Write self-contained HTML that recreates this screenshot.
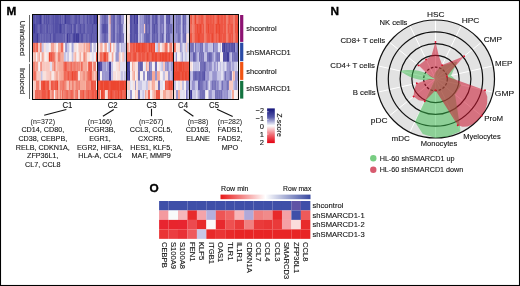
<!DOCTYPE html>
<html><head><meta charset="utf-8"><style>
html,body{margin:0;padding:0;background:#fff;}
body{width:520px;height:286px;overflow:hidden;font-family:"Liberation Sans", sans-serif;}
svg{display:block;will-change:transform;}
</style></head><body>
<svg width="520" height="286" viewBox="0 0 520 286" font-family='"Liberation Sans", sans-serif' fill="#141414">
<rect x="0" y="0" width="520" height="286" fill="#fff"/>
<text x="6.6" y="15.0" font-size="11.8" text-anchor="start" font-weight="bold" fill="#000" stroke="#000" stroke-width="0.35">M</text>
<text x="330.5" y="14.8" font-size="11.8" text-anchor="start" font-weight="bold" fill="#000" stroke="#000" stroke-width="0.35">N</text>
<text x="149.4" y="191.6" font-size="11.8" text-anchor="start" font-weight="bold" fill="#000" stroke="#000" stroke-width="0.35">O</text>
<rect x="32.50" y="14.50" width="1.60" height="10.04" fill="#5450a6"/>
<rect x="33.75" y="14.50" width="2.06" height="10.04" fill="#5450a6"/>
<rect x="35.46" y="14.50" width="1.90" height="10.04" fill="#5450a6"/>
<rect x="37.01" y="14.50" width="1.24" height="10.04" fill="#5450a6"/>
<rect x="37.90" y="14.50" width="1.20" height="10.04" fill="#5450a6"/>
<rect x="38.75" y="14.50" width="1.25" height="10.04" fill="#5450a6"/>
<rect x="39.65" y="14.50" width="1.74" height="10.04" fill="#3e3a98"/>
<rect x="41.04" y="14.50" width="1.32" height="10.04" fill="#5450a6"/>
<rect x="42.01" y="14.50" width="2.03" height="10.04" fill="#7470b8"/>
<rect x="43.69" y="14.50" width="1.96" height="10.04" fill="#5450a6"/>
<rect x="45.30" y="14.50" width="2.52" height="10.04" fill="#5450a6"/>
<rect x="47.47" y="14.50" width="2.35" height="10.04" fill="#5450a6"/>
<rect x="49.47" y="14.50" width="1.35" height="10.04" fill="#5450a6"/>
<rect x="50.47" y="14.50" width="1.58" height="10.04" fill="#625eae"/>
<rect x="51.70" y="14.50" width="1.41" height="10.04" fill="#625eae"/>
<rect x="52.76" y="14.50" width="2.04" height="10.04" fill="#5450a6"/>
<rect x="54.45" y="14.50" width="1.92" height="10.04" fill="#5450a6"/>
<rect x="56.02" y="14.50" width="1.23" height="10.04" fill="#5450a6"/>
<rect x="56.90" y="14.50" width="2.10" height="10.04" fill="#5450a6"/>
<rect x="58.65" y="14.50" width="1.59" height="10.04" fill="#625eae"/>
<rect x="59.89" y="14.50" width="1.79" height="10.04" fill="#5450a6"/>
<rect x="61.33" y="14.50" width="2.26" height="10.04" fill="#625eae"/>
<rect x="63.24" y="14.50" width="1.49" height="10.04" fill="#625eae"/>
<rect x="64.38" y="14.50" width="1.89" height="10.04" fill="#3e3a98"/>
<rect x="65.92" y="14.50" width="2.17" height="10.04" fill="#5450a6"/>
<rect x="67.74" y="14.50" width="2.52" height="10.04" fill="#5450a6"/>
<rect x="69.91" y="14.50" width="1.74" height="10.04" fill="#625eae"/>
<rect x="71.30" y="14.50" width="1.36" height="10.04" fill="#5450a6"/>
<rect x="72.31" y="14.50" width="1.20" height="10.04" fill="#625eae"/>
<rect x="73.16" y="14.50" width="2.22" height="10.04" fill="#625eae"/>
<rect x="75.03" y="14.50" width="2.38" height="10.04" fill="#5450a6"/>
<rect x="77.06" y="14.50" width="2.12" height="10.04" fill="#625eae"/>
<rect x="78.83" y="14.50" width="1.96" height="10.04" fill="#5450a6"/>
<rect x="80.44" y="14.50" width="2.33" height="10.04" fill="#7470b8"/>
<rect x="82.42" y="14.50" width="1.81" height="10.04" fill="#625eae"/>
<rect x="83.88" y="14.50" width="1.24" height="10.04" fill="#625eae"/>
<rect x="84.77" y="14.50" width="2.06" height="10.04" fill="#7470b8"/>
<rect x="86.48" y="14.50" width="2.30" height="10.04" fill="#5450a6"/>
<rect x="88.43" y="14.50" width="1.69" height="10.04" fill="#625eae"/>
<rect x="89.77" y="14.50" width="1.18" height="10.04" fill="#5450a6"/>
<rect x="90.60" y="14.50" width="1.38" height="10.04" fill="#5450a6"/>
<rect x="91.63" y="14.50" width="1.24" height="10.04" fill="#625eae"/>
<rect x="92.52" y="14.50" width="1.33" height="10.04" fill="#5450a6"/>
<rect x="93.50" y="14.50" width="1.69" height="10.04" fill="#3e3a98"/>
<rect x="94.84" y="14.50" width="1.27" height="10.04" fill="#5450a6"/>
<rect x="95.76" y="14.50" width="1.92" height="10.04" fill="#3e3a98"/>
<rect x="97.33" y="14.50" width="0.52" height="10.04" fill="#3e3a98"/>
<rect x="97.60" y="14.50" width="2.55" height="10.04" fill="#f8e0dc"/>
<rect x="99.80" y="14.50" width="1.95" height="10.04" fill="#9894ce"/>
<rect x="101.40" y="14.50" width="1.75" height="10.04" fill="#7470b8"/>
<rect x="102.80" y="14.50" width="1.55" height="10.04" fill="#7470b8"/>
<rect x="104.00" y="14.50" width="2.35" height="10.04" fill="#625eae"/>
<rect x="106.00" y="14.50" width="2.35" height="10.04" fill="#7470b8"/>
<rect x="108.00" y="14.50" width="1.85" height="10.04" fill="#c4c2e4"/>
<rect x="109.50" y="14.50" width="1.45" height="10.04" fill="#f5a898"/>
<rect x="110.60" y="14.50" width="2.75" height="10.04" fill="#7470b8"/>
<rect x="113.00" y="14.50" width="2.35" height="10.04" fill="#625eae"/>
<rect x="115.00" y="14.50" width="1.85" height="10.04" fill="#9894ce"/>
<rect x="116.50" y="14.50" width="1.81" height="10.04" fill="#7470b8"/>
<rect x="117.96" y="14.50" width="1.39" height="10.04" fill="#7470b8"/>
<rect x="119.00" y="14.50" width="2.35" height="10.04" fill="#625eae"/>
<rect x="121.00" y="14.50" width="1.94" height="10.04" fill="#9894ce"/>
<rect x="122.59" y="14.50" width="1.35" height="10.04" fill="#9894ce"/>
<rect x="123.60" y="14.50" width="0.75" height="10.04" fill="#9894ce"/>
<rect x="124.00" y="14.50" width="2.01" height="10.04" fill="#f6f0f2"/>
<rect x="125.66" y="14.50" width="1.49" height="10.04" fill="#e2e0f0"/>
<rect x="126.80" y="14.50" width="1.93" height="10.04" fill="#f8e0dc"/>
<rect x="128.38" y="14.50" width="1.87" height="10.04" fill="#f8e0dc"/>
<rect x="129.90" y="14.50" width="2.45" height="10.04" fill="#5450a6"/>
<rect x="132.00" y="14.50" width="2.35" height="10.04" fill="#625eae"/>
<rect x="134.00" y="14.50" width="1.46" height="10.04" fill="#3e3a98"/>
<rect x="135.11" y="14.50" width="2.11" height="10.04" fill="#5450a6"/>
<rect x="136.87" y="14.50" width="1.48" height="10.04" fill="#3e3a98"/>
<rect x="138.00" y="14.50" width="1.95" height="10.04" fill="#c4c2e4"/>
<rect x="139.60" y="14.50" width="1.95" height="10.04" fill="#9894ce"/>
<rect x="141.20" y="14.50" width="1.98" height="10.04" fill="#9894ce"/>
<rect x="142.83" y="14.50" width="1.52" height="10.04" fill="#9894ce"/>
<rect x="144.00" y="14.50" width="1.55" height="10.04" fill="#7470b8"/>
<rect x="145.20" y="14.50" width="2.35" height="10.04" fill="#625eae"/>
<rect x="147.20" y="14.50" width="2.03" height="10.04" fill="#625eae"/>
<rect x="148.87" y="14.50" width="1.48" height="10.04" fill="#625eae"/>
<rect x="150.00" y="14.50" width="2.35" height="10.04" fill="#9894ce"/>
<rect x="152.00" y="14.50" width="1.33" height="10.04" fill="#625eae"/>
<rect x="152.98" y="14.50" width="1.69" height="10.04" fill="#625eae"/>
<rect x="154.32" y="14.50" width="1.68" height="10.04" fill="#625eae"/>
<rect x="155.64" y="14.50" width="2.18" height="10.04" fill="#5450a6"/>
<rect x="157.47" y="14.50" width="0.88" height="10.04" fill="#7470b8"/>
<rect x="158.00" y="14.50" width="2.35" height="10.04" fill="#9894ce"/>
<rect x="160.00" y="14.50" width="2.33" height="10.04" fill="#7470b8"/>
<rect x="161.98" y="14.50" width="1.33" height="10.04" fill="#7470b8"/>
<rect x="162.96" y="14.50" width="1.39" height="10.04" fill="#7470b8"/>
<rect x="164.00" y="14.50" width="2.35" height="10.04" fill="#c4c2e4"/>
<rect x="166.00" y="14.50" width="1.35" height="10.04" fill="#625eae"/>
<rect x="167.00" y="14.50" width="2.31" height="10.04" fill="#625eae"/>
<rect x="168.96" y="14.50" width="1.38" height="10.04" fill="#5450a6"/>
<rect x="169.99" y="14.50" width="0.36" height="10.04" fill="#625eae"/>
<rect x="170.00" y="14.50" width="1.79" height="10.04" fill="#9894ce"/>
<rect x="171.44" y="14.50" width="1.46" height="10.04" fill="#9894ce"/>
<rect x="172.54" y="14.50" width="1.41" height="10.04" fill="#9894ce"/>
<rect x="173.60" y="14.50" width="2.75" height="10.04" fill="#9894ce"/>
<rect x="176.00" y="14.50" width="1.71" height="10.04" fill="#7470b8"/>
<rect x="177.36" y="14.50" width="1.68" height="10.04" fill="#7470b8"/>
<rect x="178.70" y="14.50" width="1.25" height="10.04" fill="#7470b8"/>
<rect x="179.60" y="14.50" width="1.55" height="10.04" fill="#7470b8"/>
<rect x="180.80" y="14.50" width="2.05" height="10.04" fill="#c4c2e4"/>
<rect x="182.50" y="14.50" width="2.35" height="10.04" fill="#625eae"/>
<rect x="184.50" y="14.50" width="1.68" height="10.04" fill="#7470b8"/>
<rect x="185.83" y="14.50" width="0.82" height="10.04" fill="#625eae"/>
<rect x="186.30" y="14.50" width="1.48" height="10.04" fill="#c4c2e4"/>
<rect x="187.43" y="14.50" width="2.10" height="10.04" fill="#c4c2e4"/>
<rect x="189.18" y="14.50" width="0.37" height="10.04" fill="#9894ce"/>
<rect x="189.20" y="14.50" width="1.48" height="10.04" fill="#ee5644"/>
<rect x="190.33" y="14.50" width="1.27" height="10.04" fill="#ee5644"/>
<rect x="191.25" y="14.50" width="1.30" height="10.04" fill="#ec4630"/>
<rect x="192.20" y="14.50" width="2.55" height="10.04" fill="#f08070"/>
<rect x="194.40" y="14.50" width="2.17" height="10.04" fill="#ec4630"/>
<rect x="196.22" y="14.50" width="1.45" height="10.04" fill="#f06a58"/>
<rect x="197.32" y="14.50" width="2.15" height="10.04" fill="#f06a58"/>
<rect x="199.12" y="14.50" width="1.42" height="10.04" fill="#ee5644"/>
<rect x="200.19" y="14.50" width="1.86" height="10.04" fill="#ee5644"/>
<rect x="201.70" y="14.50" width="1.68" height="10.04" fill="#ee5644"/>
<rect x="203.03" y="14.50" width="1.32" height="10.04" fill="#f06a58"/>
<rect x="204.00" y="14.50" width="2.15" height="10.04" fill="#f08070"/>
<rect x="205.80" y="14.50" width="1.29" height="10.04" fill="#ee5644"/>
<rect x="206.74" y="14.50" width="1.51" height="10.04" fill="#ee5644"/>
<rect x="207.90" y="14.50" width="1.53" height="10.04" fill="#ee5644"/>
<rect x="209.09" y="14.50" width="1.91" height="10.04" fill="#ee5644"/>
<rect x="210.64" y="14.50" width="1.44" height="10.04" fill="#ee5644"/>
<rect x="211.74" y="14.50" width="1.33" height="10.04" fill="#f06a58"/>
<rect x="212.71" y="14.50" width="1.56" height="10.04" fill="#ee5644"/>
<rect x="213.92" y="14.50" width="0.43" height="10.04" fill="#ec4630"/>
<rect x="214.00" y="14.50" width="1.85" height="10.04" fill="#f06a58"/>
<rect x="215.50" y="14.50" width="1.70" height="10.04" fill="#f06a58"/>
<rect x="216.85" y="14.50" width="1.44" height="10.04" fill="#ee5644"/>
<rect x="217.95" y="14.50" width="1.88" height="10.04" fill="#ec4630"/>
<rect x="219.48" y="14.50" width="1.40" height="10.04" fill="#ee5644"/>
<rect x="220.53" y="14.50" width="1.61" height="10.04" fill="#ee5644"/>
<rect x="221.79" y="14.50" width="1.82" height="10.04" fill="#ee5644"/>
<rect x="223.27" y="14.50" width="1.90" height="10.04" fill="#ee5644"/>
<rect x="224.82" y="14.50" width="1.53" height="10.04" fill="#ee5644"/>
<rect x="226.00" y="14.50" width="1.85" height="10.04" fill="#f08070"/>
<rect x="227.50" y="14.50" width="1.59" height="10.04" fill="#f06a58"/>
<rect x="228.74" y="14.50" width="1.78" height="10.04" fill="#ee5644"/>
<rect x="230.17" y="14.50" width="1.60" height="10.04" fill="#ee5644"/>
<rect x="231.42" y="14.50" width="1.33" height="10.04" fill="#ee5644"/>
<rect x="232.41" y="14.50" width="0.94" height="10.04" fill="#ee5644"/>
<rect x="233.00" y="14.50" width="2.35" height="10.04" fill="#f08070"/>
<rect x="235.00" y="14.50" width="2.06" height="10.04" fill="#ee5644"/>
<rect x="236.71" y="14.50" width="1.64" height="10.04" fill="#ee5644"/>
<rect x="32.50" y="23.94" width="1.54" height="10.04" fill="#5450a6"/>
<rect x="33.69" y="23.94" width="1.65" height="10.04" fill="#3e3a98"/>
<rect x="34.99" y="23.94" width="2.49" height="10.04" fill="#5450a6"/>
<rect x="37.13" y="23.94" width="1.40" height="10.04" fill="#5450a6"/>
<rect x="38.18" y="23.94" width="1.48" height="10.04" fill="#625eae"/>
<rect x="39.31" y="23.94" width="1.97" height="10.04" fill="#5450a6"/>
<rect x="40.93" y="23.94" width="1.16" height="10.04" fill="#5450a6"/>
<rect x="41.74" y="23.94" width="1.66" height="10.04" fill="#625eae"/>
<rect x="43.05" y="23.94" width="2.49" height="10.04" fill="#625eae"/>
<rect x="45.19" y="23.94" width="1.87" height="10.04" fill="#625eae"/>
<rect x="46.71" y="23.94" width="2.10" height="10.04" fill="#5450a6"/>
<rect x="48.46" y="23.94" width="2.41" height="10.04" fill="#625eae"/>
<rect x="50.52" y="23.94" width="2.37" height="10.04" fill="#625eae"/>
<rect x="52.54" y="23.94" width="1.70" height="10.04" fill="#5450a6"/>
<rect x="53.89" y="23.94" width="1.29" height="10.04" fill="#625eae"/>
<rect x="54.83" y="23.94" width="1.24" height="10.04" fill="#5450a6"/>
<rect x="55.72" y="23.94" width="1.44" height="10.04" fill="#5450a6"/>
<rect x="56.81" y="23.94" width="1.63" height="10.04" fill="#5450a6"/>
<rect x="58.09" y="23.94" width="1.15" height="10.04" fill="#5450a6"/>
<rect x="58.89" y="23.94" width="1.29" height="10.04" fill="#5450a6"/>
<rect x="59.83" y="23.94" width="1.19" height="10.04" fill="#3e3a98"/>
<rect x="60.67" y="23.94" width="2.01" height="10.04" fill="#5450a6"/>
<rect x="62.33" y="23.94" width="1.50" height="10.04" fill="#5450a6"/>
<rect x="63.48" y="23.94" width="1.66" height="10.04" fill="#5450a6"/>
<rect x="64.79" y="23.94" width="2.34" height="10.04" fill="#7470b8"/>
<rect x="66.78" y="23.94" width="1.80" height="10.04" fill="#625eae"/>
<rect x="68.23" y="23.94" width="1.27" height="10.04" fill="#5450a6"/>
<rect x="69.15" y="23.94" width="1.63" height="10.04" fill="#5450a6"/>
<rect x="70.43" y="23.94" width="2.31" height="10.04" fill="#5450a6"/>
<rect x="72.39" y="23.94" width="1.18" height="10.04" fill="#7470b8"/>
<rect x="73.22" y="23.94" width="1.89" height="10.04" fill="#5450a6"/>
<rect x="74.76" y="23.94" width="1.91" height="10.04" fill="#5450a6"/>
<rect x="76.32" y="23.94" width="1.89" height="10.04" fill="#7470b8"/>
<rect x="77.86" y="23.94" width="2.36" height="10.04" fill="#625eae"/>
<rect x="79.87" y="23.94" width="1.52" height="10.04" fill="#5450a6"/>
<rect x="81.04" y="23.94" width="1.38" height="10.04" fill="#625eae"/>
<rect x="82.07" y="23.94" width="1.90" height="10.04" fill="#625eae"/>
<rect x="83.62" y="23.94" width="1.61" height="10.04" fill="#5450a6"/>
<rect x="84.88" y="23.94" width="2.28" height="10.04" fill="#7470b8"/>
<rect x="86.81" y="23.94" width="2.35" height="10.04" fill="#625eae"/>
<rect x="88.81" y="23.94" width="2.29" height="10.04" fill="#625eae"/>
<rect x="90.75" y="23.94" width="1.47" height="10.04" fill="#625eae"/>
<rect x="91.87" y="23.94" width="1.65" height="10.04" fill="#5450a6"/>
<rect x="93.17" y="23.94" width="1.19" height="10.04" fill="#5450a6"/>
<rect x="94.01" y="23.94" width="1.51" height="10.04" fill="#625eae"/>
<rect x="95.17" y="23.94" width="2.49" height="10.04" fill="#5450a6"/>
<rect x="97.31" y="23.94" width="0.54" height="10.04" fill="#7470b8"/>
<rect x="97.60" y="23.94" width="2.55" height="10.04" fill="#e2e0f0"/>
<rect x="99.80" y="23.94" width="1.95" height="10.04" fill="#9894ce"/>
<rect x="101.40" y="23.94" width="1.77" height="10.04" fill="#625eae"/>
<rect x="102.82" y="23.94" width="1.53" height="10.04" fill="#5450a6"/>
<rect x="104.00" y="23.94" width="2.35" height="10.04" fill="#5450a6"/>
<rect x="106.00" y="23.94" width="2.35" height="10.04" fill="#625eae"/>
<rect x="108.00" y="23.94" width="1.85" height="10.04" fill="#c4c2e4"/>
<rect x="109.50" y="23.94" width="1.45" height="10.04" fill="#f8c8c0"/>
<rect x="110.60" y="23.94" width="2.75" height="10.04" fill="#7470b8"/>
<rect x="113.00" y="23.94" width="2.35" height="10.04" fill="#625eae"/>
<rect x="115.00" y="23.94" width="1.85" height="10.04" fill="#9894ce"/>
<rect x="116.50" y="23.94" width="2.35" height="10.04" fill="#7470b8"/>
<rect x="118.50" y="23.94" width="0.85" height="10.04" fill="#7470b8"/>
<rect x="119.00" y="23.94" width="2.35" height="10.04" fill="#625eae"/>
<rect x="121.00" y="23.94" width="2.20" height="10.04" fill="#7470b8"/>
<rect x="122.85" y="23.94" width="1.50" height="10.04" fill="#c4c2e4"/>
<rect x="124.00" y="23.94" width="1.65" height="10.04" fill="#e2e0f0"/>
<rect x="125.30" y="23.94" width="1.48" height="10.04" fill="#e2e0f0"/>
<rect x="126.44" y="23.94" width="0.71" height="10.04" fill="#e2e0f0"/>
<rect x="126.80" y="23.94" width="2.15" height="10.04" fill="#f8e0dc"/>
<rect x="128.60" y="23.94" width="1.65" height="10.04" fill="#f6f0f2"/>
<rect x="129.90" y="23.94" width="2.45" height="10.04" fill="#5450a6"/>
<rect x="132.00" y="23.94" width="2.35" height="10.04" fill="#625eae"/>
<rect x="134.00" y="23.94" width="2.15" height="10.04" fill="#5450a6"/>
<rect x="135.80" y="23.94" width="1.50" height="10.04" fill="#5450a6"/>
<rect x="136.95" y="23.94" width="1.40" height="10.04" fill="#5450a6"/>
<rect x="138.00" y="23.94" width="1.95" height="10.04" fill="#c4c2e4"/>
<rect x="139.60" y="23.94" width="1.98" height="10.04" fill="#9894ce"/>
<rect x="141.23" y="23.94" width="1.84" height="10.04" fill="#9894ce"/>
<rect x="142.72" y="23.94" width="1.63" height="10.04" fill="#9894ce"/>
<rect x="144.00" y="23.94" width="1.55" height="10.04" fill="#f8c8c0"/>
<rect x="145.20" y="23.94" width="2.22" height="10.04" fill="#625eae"/>
<rect x="147.07" y="23.94" width="1.81" height="10.04" fill="#7470b8"/>
<rect x="148.53" y="23.94" width="1.82" height="10.04" fill="#625eae"/>
<rect x="150.00" y="23.94" width="2.35" height="10.04" fill="#9894ce"/>
<rect x="152.00" y="23.94" width="1.92" height="10.04" fill="#625eae"/>
<rect x="153.57" y="23.94" width="1.95" height="10.04" fill="#5450a6"/>
<rect x="155.18" y="23.94" width="2.32" height="10.04" fill="#625eae"/>
<rect x="157.15" y="23.94" width="1.20" height="10.04" fill="#625eae"/>
<rect x="158.00" y="23.94" width="2.35" height="10.04" fill="#9894ce"/>
<rect x="160.00" y="23.94" width="2.01" height="10.04" fill="#7470b8"/>
<rect x="161.66" y="23.94" width="1.38" height="10.04" fill="#9894ce"/>
<rect x="162.68" y="23.94" width="1.66" height="10.04" fill="#7470b8"/>
<rect x="164.00" y="23.94" width="2.35" height="10.04" fill="#c4c2e4"/>
<rect x="166.00" y="23.94" width="2.09" height="10.04" fill="#7470b8"/>
<rect x="167.74" y="23.94" width="2.15" height="10.04" fill="#625eae"/>
<rect x="169.55" y="23.94" width="0.80" height="10.04" fill="#7470b8"/>
<rect x="170.00" y="23.94" width="1.30" height="10.04" fill="#7470b8"/>
<rect x="170.95" y="23.94" width="2.08" height="10.04" fill="#7470b8"/>
<rect x="172.68" y="23.94" width="1.27" height="10.04" fill="#c4c2e4"/>
<rect x="173.60" y="23.94" width="2.75" height="10.04" fill="#9894ce"/>
<rect x="176.00" y="23.94" width="1.80" height="10.04" fill="#7470b8"/>
<rect x="177.45" y="23.94" width="2.05" height="10.04" fill="#7470b8"/>
<rect x="179.15" y="23.94" width="1.66" height="10.04" fill="#7470b8"/>
<rect x="180.45" y="23.94" width="0.70" height="10.04" fill="#7470b8"/>
<rect x="180.80" y="23.94" width="2.05" height="10.04" fill="#c4c2e4"/>
<rect x="182.50" y="23.94" width="2.19" height="10.04" fill="#625eae"/>
<rect x="184.34" y="23.94" width="1.76" height="10.04" fill="#7470b8"/>
<rect x="185.75" y="23.94" width="0.90" height="10.04" fill="#7470b8"/>
<rect x="186.30" y="23.94" width="1.49" height="10.04" fill="#c4c2e4"/>
<rect x="187.44" y="23.94" width="2.11" height="10.04" fill="#c4c2e4"/>
<rect x="189.20" y="23.94" width="2.13" height="10.04" fill="#f06a58"/>
<rect x="190.98" y="23.94" width="1.57" height="10.04" fill="#f06a58"/>
<rect x="192.20" y="23.94" width="2.55" height="10.04" fill="#f08070"/>
<rect x="194.40" y="23.94" width="2.33" height="10.04" fill="#ee5644"/>
<rect x="196.38" y="23.94" width="1.80" height="10.04" fill="#ec4630"/>
<rect x="197.84" y="23.94" width="2.22" height="10.04" fill="#ee5644"/>
<rect x="199.71" y="23.94" width="1.56" height="10.04" fill="#ec4630"/>
<rect x="200.91" y="23.94" width="1.79" height="10.04" fill="#ee5644"/>
<rect x="202.35" y="23.94" width="2.00" height="10.04" fill="#ee5644"/>
<rect x="204.00" y="23.94" width="2.15" height="10.04" fill="#f08070"/>
<rect x="205.80" y="23.94" width="2.06" height="10.04" fill="#ee5644"/>
<rect x="207.51" y="23.94" width="1.93" height="10.04" fill="#ec4630"/>
<rect x="209.09" y="23.94" width="2.29" height="10.04" fill="#ee5644"/>
<rect x="211.03" y="23.94" width="2.02" height="10.04" fill="#ee5644"/>
<rect x="212.70" y="23.94" width="1.49" height="10.04" fill="#ee5644"/>
<rect x="213.83" y="23.94" width="0.52" height="10.04" fill="#ee5644"/>
<rect x="214.00" y="23.94" width="1.85" height="10.04" fill="#f06a58"/>
<rect x="215.50" y="23.94" width="2.01" height="10.04" fill="#ec4630"/>
<rect x="217.16" y="23.94" width="1.71" height="10.04" fill="#ec4630"/>
<rect x="218.53" y="23.94" width="1.77" height="10.04" fill="#ec4630"/>
<rect x="219.94" y="23.94" width="2.09" height="10.04" fill="#ee5644"/>
<rect x="221.68" y="23.94" width="1.90" height="10.04" fill="#ee5644"/>
<rect x="223.23" y="23.94" width="2.12" height="10.04" fill="#ee5644"/>
<rect x="225.00" y="23.94" width="1.35" height="10.04" fill="#ee5644"/>
<rect x="226.00" y="23.94" width="1.85" height="10.04" fill="#f08070"/>
<rect x="227.50" y="23.94" width="2.06" height="10.04" fill="#ee5644"/>
<rect x="229.21" y="23.94" width="1.27" height="10.04" fill="#ee5644"/>
<rect x="230.13" y="23.94" width="2.24" height="10.04" fill="#ee5644"/>
<rect x="232.02" y="23.94" width="1.33" height="10.04" fill="#ee5644"/>
<rect x="233.00" y="23.94" width="2.35" height="10.04" fill="#f08070"/>
<rect x="235.00" y="23.94" width="1.84" height="10.04" fill="#ee5644"/>
<rect x="236.49" y="23.94" width="1.67" height="10.04" fill="#ec4630"/>
<rect x="237.81" y="23.94" width="0.54" height="10.04" fill="#ee5644"/>
<rect x="32.50" y="33.39" width="2.49" height="10.04" fill="#5450a6"/>
<rect x="34.64" y="33.39" width="1.46" height="10.04" fill="#5450a6"/>
<rect x="35.75" y="33.39" width="1.42" height="10.04" fill="#5450a6"/>
<rect x="36.82" y="33.39" width="2.02" height="10.04" fill="#3e3a98"/>
<rect x="38.49" y="33.39" width="2.33" height="10.04" fill="#625eae"/>
<rect x="40.47" y="33.39" width="2.07" height="10.04" fill="#625eae"/>
<rect x="42.19" y="33.39" width="1.26" height="10.04" fill="#625eae"/>
<rect x="43.10" y="33.39" width="2.43" height="10.04" fill="#625eae"/>
<rect x="45.18" y="33.39" width="2.20" height="10.04" fill="#625eae"/>
<rect x="47.03" y="33.39" width="1.40" height="10.04" fill="#625eae"/>
<rect x="48.08" y="33.39" width="1.61" height="10.04" fill="#625eae"/>
<rect x="49.34" y="33.39" width="2.51" height="10.04" fill="#5450a6"/>
<rect x="51.50" y="33.39" width="1.72" height="10.04" fill="#7470b8"/>
<rect x="52.87" y="33.39" width="2.16" height="10.04" fill="#5450a6"/>
<rect x="54.68" y="33.39" width="1.33" height="10.04" fill="#5450a6"/>
<rect x="55.66" y="33.39" width="2.42" height="10.04" fill="#625eae"/>
<rect x="57.73" y="33.39" width="1.35" height="10.04" fill="#625eae"/>
<rect x="58.73" y="33.39" width="2.52" height="10.04" fill="#625eae"/>
<rect x="60.90" y="33.39" width="1.64" height="10.04" fill="#625eae"/>
<rect x="62.19" y="33.39" width="1.34" height="10.04" fill="#5450a6"/>
<rect x="63.18" y="33.39" width="2.51" height="10.04" fill="#625eae"/>
<rect x="65.34" y="33.39" width="1.88" height="10.04" fill="#7470b8"/>
<rect x="66.87" y="33.39" width="1.76" height="10.04" fill="#3e3a98"/>
<rect x="68.28" y="33.39" width="2.31" height="10.04" fill="#5450a6"/>
<rect x="70.24" y="33.39" width="1.50" height="10.04" fill="#5450a6"/>
<rect x="71.39" y="33.39" width="1.49" height="10.04" fill="#625eae"/>
<rect x="72.53" y="33.39" width="1.51" height="10.04" fill="#5450a6"/>
<rect x="73.69" y="33.39" width="1.33" height="10.04" fill="#3e3a98"/>
<rect x="74.67" y="33.39" width="1.65" height="10.04" fill="#5450a6"/>
<rect x="75.97" y="33.39" width="1.96" height="10.04" fill="#3e3a98"/>
<rect x="77.58" y="33.39" width="1.74" height="10.04" fill="#3e3a98"/>
<rect x="78.97" y="33.39" width="1.86" height="10.04" fill="#625eae"/>
<rect x="80.48" y="33.39" width="1.88" height="10.04" fill="#5450a6"/>
<rect x="82.01" y="33.39" width="1.76" height="10.04" fill="#5450a6"/>
<rect x="83.42" y="33.39" width="1.16" height="10.04" fill="#625eae"/>
<rect x="84.23" y="33.39" width="1.39" height="10.04" fill="#625eae"/>
<rect x="85.27" y="33.39" width="2.17" height="10.04" fill="#625eae"/>
<rect x="87.09" y="33.39" width="1.60" height="10.04" fill="#625eae"/>
<rect x="88.34" y="33.39" width="1.93" height="10.04" fill="#625eae"/>
<rect x="89.92" y="33.39" width="1.30" height="10.04" fill="#625eae"/>
<rect x="90.87" y="33.39" width="1.50" height="10.04" fill="#5450a6"/>
<rect x="92.02" y="33.39" width="2.23" height="10.04" fill="#625eae"/>
<rect x="93.90" y="33.39" width="1.93" height="10.04" fill="#625eae"/>
<rect x="95.48" y="33.39" width="2.37" height="10.04" fill="#5450a6"/>
<rect x="97.60" y="33.39" width="2.55" height="10.04" fill="#e2e0f0"/>
<rect x="99.80" y="33.39" width="1.95" height="10.04" fill="#9894ce"/>
<rect x="101.40" y="33.39" width="1.53" height="10.04" fill="#7470b8"/>
<rect x="102.58" y="33.39" width="1.77" height="10.04" fill="#7470b8"/>
<rect x="104.00" y="33.39" width="2.35" height="10.04" fill="#625eae"/>
<rect x="106.00" y="33.39" width="2.35" height="10.04" fill="#7470b8"/>
<rect x="108.00" y="33.39" width="1.85" height="10.04" fill="#c4c2e4"/>
<rect x="109.50" y="33.39" width="1.45" height="10.04" fill="#f8c8c0"/>
<rect x="110.60" y="33.39" width="2.75" height="10.04" fill="#7470b8"/>
<rect x="113.00" y="33.39" width="2.35" height="10.04" fill="#625eae"/>
<rect x="115.00" y="33.39" width="1.85" height="10.04" fill="#9894ce"/>
<rect x="116.50" y="33.39" width="1.45" height="10.04" fill="#625eae"/>
<rect x="117.60" y="33.39" width="1.75" height="10.04" fill="#7470b8"/>
<rect x="119.00" y="33.39" width="2.35" height="10.04" fill="#625eae"/>
<rect x="121.00" y="33.39" width="1.46" height="10.04" fill="#7470b8"/>
<rect x="122.11" y="33.39" width="2.07" height="10.04" fill="#7470b8"/>
<rect x="123.83" y="33.39" width="0.52" height="10.04" fill="#9894ce"/>
<rect x="124.00" y="33.39" width="1.27" height="10.04" fill="#e2e0f0"/>
<rect x="124.92" y="33.39" width="1.41" height="10.04" fill="#e2e0f0"/>
<rect x="125.98" y="33.39" width="1.17" height="10.04" fill="#e2e0f0"/>
<rect x="126.80" y="33.39" width="2.16" height="10.04" fill="#f8e0dc"/>
<rect x="128.61" y="33.39" width="1.64" height="10.04" fill="#f8e0dc"/>
<rect x="129.90" y="33.39" width="2.45" height="10.04" fill="#5450a6"/>
<rect x="132.00" y="33.39" width="2.35" height="10.04" fill="#625eae"/>
<rect x="134.00" y="33.39" width="1.53" height="10.04" fill="#5450a6"/>
<rect x="135.18" y="33.39" width="1.79" height="10.04" fill="#5450a6"/>
<rect x="136.62" y="33.39" width="1.73" height="10.04" fill="#5450a6"/>
<rect x="138.00" y="33.39" width="1.95" height="10.04" fill="#c4c2e4"/>
<rect x="139.60" y="33.39" width="1.65" height="10.04" fill="#9894ce"/>
<rect x="140.90" y="33.39" width="1.60" height="10.04" fill="#c4c2e4"/>
<rect x="142.15" y="33.39" width="2.01" height="10.04" fill="#9894ce"/>
<rect x="143.81" y="33.39" width="0.54" height="10.04" fill="#c4c2e4"/>
<rect x="144.00" y="33.39" width="1.55" height="10.04" fill="#7470b8"/>
<rect x="145.20" y="33.39" width="1.84" height="10.04" fill="#625eae"/>
<rect x="146.69" y="33.39" width="1.45" height="10.04" fill="#625eae"/>
<rect x="147.79" y="33.39" width="1.66" height="10.04" fill="#625eae"/>
<rect x="149.10" y="33.39" width="1.25" height="10.04" fill="#625eae"/>
<rect x="150.00" y="33.39" width="2.35" height="10.04" fill="#9894ce"/>
<rect x="152.00" y="33.39" width="1.88" height="10.04" fill="#625eae"/>
<rect x="153.53" y="33.39" width="1.87" height="10.04" fill="#625eae"/>
<rect x="155.06" y="33.39" width="2.02" height="10.04" fill="#7470b8"/>
<rect x="156.73" y="33.39" width="1.62" height="10.04" fill="#625eae"/>
<rect x="158.00" y="33.39" width="2.35" height="10.04" fill="#9894ce"/>
<rect x="160.00" y="33.39" width="1.68" height="10.04" fill="#7470b8"/>
<rect x="161.33" y="33.39" width="2.28" height="10.04" fill="#625eae"/>
<rect x="163.25" y="33.39" width="1.10" height="10.04" fill="#7470b8"/>
<rect x="164.00" y="33.39" width="2.35" height="10.04" fill="#c4c2e4"/>
<rect x="166.00" y="33.39" width="1.74" height="10.04" fill="#625eae"/>
<rect x="167.39" y="33.39" width="2.06" height="10.04" fill="#625eae"/>
<rect x="169.10" y="33.39" width="1.25" height="10.04" fill="#625eae"/>
<rect x="170.00" y="33.39" width="1.64" height="10.04" fill="#9894ce"/>
<rect x="171.29" y="33.39" width="1.94" height="10.04" fill="#9894ce"/>
<rect x="172.88" y="33.39" width="1.07" height="10.04" fill="#9894ce"/>
<rect x="173.60" y="33.39" width="2.75" height="10.04" fill="#9894ce"/>
<rect x="176.00" y="33.39" width="2.02" height="10.04" fill="#9894ce"/>
<rect x="177.67" y="33.39" width="1.48" height="10.04" fill="#7470b8"/>
<rect x="178.81" y="33.39" width="1.89" height="10.04" fill="#7470b8"/>
<rect x="180.35" y="33.39" width="0.80" height="10.04" fill="#7470b8"/>
<rect x="180.80" y="33.39" width="2.05" height="10.04" fill="#c4c2e4"/>
<rect x="182.50" y="33.39" width="1.63" height="10.04" fill="#7470b8"/>
<rect x="183.78" y="33.39" width="1.43" height="10.04" fill="#7470b8"/>
<rect x="184.86" y="33.39" width="1.37" height="10.04" fill="#625eae"/>
<rect x="185.88" y="33.39" width="0.77" height="10.04" fill="#7470b8"/>
<rect x="186.30" y="33.39" width="2.14" height="10.04" fill="#f8e0dc"/>
<rect x="188.09" y="33.39" width="1.46" height="10.04" fill="#f8e0dc"/>
<rect x="189.20" y="33.39" width="1.96" height="10.04" fill="#ee5644"/>
<rect x="190.81" y="33.39" width="1.39" height="10.04" fill="#ee5644"/>
<rect x="191.85" y="33.39" width="0.70" height="10.04" fill="#ee5644"/>
<rect x="192.20" y="33.39" width="2.55" height="10.04" fill="#f08070"/>
<rect x="194.40" y="33.39" width="1.87" height="10.04" fill="#ee5644"/>
<rect x="195.92" y="33.39" width="2.28" height="10.04" fill="#ee5644"/>
<rect x="197.85" y="33.39" width="2.19" height="10.04" fill="#ec4630"/>
<rect x="199.69" y="33.39" width="1.62" height="10.04" fill="#ee5644"/>
<rect x="200.96" y="33.39" width="2.32" height="10.04" fill="#ee5644"/>
<rect x="202.93" y="33.39" width="1.42" height="10.04" fill="#ee5644"/>
<rect x="204.00" y="33.39" width="2.15" height="10.04" fill="#f08070"/>
<rect x="205.80" y="33.39" width="1.58" height="10.04" fill="#f06a58"/>
<rect x="207.03" y="33.39" width="2.06" height="10.04" fill="#ee5644"/>
<rect x="208.74" y="33.39" width="2.00" height="10.04" fill="#ee5644"/>
<rect x="210.39" y="33.39" width="1.53" height="10.04" fill="#ee5644"/>
<rect x="211.58" y="33.39" width="1.64" height="10.04" fill="#ec4630"/>
<rect x="212.87" y="33.39" width="1.48" height="10.04" fill="#ee5644"/>
<rect x="214.00" y="33.39" width="1.85" height="10.04" fill="#f06a58"/>
<rect x="215.50" y="33.39" width="1.72" height="10.04" fill="#ee5644"/>
<rect x="216.87" y="33.39" width="1.76" height="10.04" fill="#f06a58"/>
<rect x="218.27" y="33.39" width="1.91" height="10.04" fill="#ec4630"/>
<rect x="219.83" y="33.39" width="1.46" height="10.04" fill="#ee5644"/>
<rect x="220.94" y="33.39" width="1.86" height="10.04" fill="#ee5644"/>
<rect x="222.45" y="33.39" width="1.57" height="10.04" fill="#ee5644"/>
<rect x="223.67" y="33.39" width="1.40" height="10.04" fill="#ee5644"/>
<rect x="224.72" y="33.39" width="1.37" height="10.04" fill="#ee5644"/>
<rect x="225.75" y="33.39" width="0.60" height="10.04" fill="#ee5644"/>
<rect x="226.00" y="33.39" width="1.85" height="10.04" fill="#f08070"/>
<rect x="227.50" y="33.39" width="1.68" height="10.04" fill="#f06a58"/>
<rect x="228.83" y="33.39" width="1.36" height="10.04" fill="#ee5644"/>
<rect x="229.84" y="33.39" width="1.89" height="10.04" fill="#ee5644"/>
<rect x="231.38" y="33.39" width="1.73" height="10.04" fill="#ee5644"/>
<rect x="232.76" y="33.39" width="0.59" height="10.04" fill="#ee5644"/>
<rect x="233.00" y="33.39" width="2.35" height="10.04" fill="#f08070"/>
<rect x="235.00" y="33.39" width="1.30" height="10.04" fill="#f06a58"/>
<rect x="235.95" y="33.39" width="2.24" height="10.04" fill="#ee5644"/>
<rect x="237.85" y="33.39" width="0.50" height="10.04" fill="#ee5644"/>
<rect x="32.50" y="42.83" width="1.37" height="10.04" fill="#f06a58"/>
<rect x="33.52" y="42.83" width="1.97" height="10.04" fill="#f06a58"/>
<rect x="35.13" y="42.83" width="1.55" height="10.04" fill="#f08070"/>
<rect x="36.33" y="42.83" width="1.92" height="10.04" fill="#ee5644"/>
<rect x="37.90" y="42.83" width="2.45" height="10.04" fill="#f8c8c0"/>
<rect x="40.00" y="42.83" width="1.95" height="10.04" fill="#f08070"/>
<rect x="41.60" y="42.83" width="2.45" height="10.04" fill="#c4c2e4"/>
<rect x="43.70" y="42.83" width="2.45" height="10.04" fill="#f8e0dc"/>
<rect x="45.80" y="42.83" width="1.68" height="10.04" fill="#e2e0f0"/>
<rect x="47.13" y="42.83" width="1.54" height="10.04" fill="#e2e0f0"/>
<rect x="48.32" y="42.83" width="0.83" height="10.04" fill="#e2e0f0"/>
<rect x="48.80" y="42.83" width="1.65" height="10.04" fill="#f6f0f2"/>
<rect x="50.10" y="42.83" width="1.55" height="10.04" fill="#f8e0dc"/>
<rect x="51.30" y="42.83" width="1.43" height="10.04" fill="#f08070"/>
<rect x="52.38" y="42.83" width="1.39" height="10.04" fill="#f5a898"/>
<rect x="53.42" y="42.83" width="0.73" height="10.04" fill="#f08070"/>
<rect x="53.80" y="42.83" width="1.67" height="10.04" fill="#f8c8c0"/>
<rect x="55.12" y="42.83" width="1.53" height="10.04" fill="#f8c8c0"/>
<rect x="56.30" y="42.83" width="2.05" height="10.04" fill="#f6f0f2"/>
<rect x="58.00" y="42.83" width="1.35" height="10.04" fill="#f5a898"/>
<rect x="59.00" y="42.83" width="2.22" height="10.04" fill="#f5a898"/>
<rect x="60.88" y="42.83" width="0.37" height="10.04" fill="#f5a898"/>
<rect x="60.90" y="42.83" width="2.20" height="10.04" fill="#f06a58"/>
<rect x="62.75" y="42.83" width="1.00" height="10.04" fill="#f06a58"/>
<rect x="63.40" y="42.83" width="2.05" height="10.04" fill="#f6f0f2"/>
<rect x="65.10" y="42.83" width="2.45" height="10.04" fill="#9894ce"/>
<rect x="67.20" y="42.83" width="2.05" height="10.04" fill="#c4c2e4"/>
<rect x="68.90" y="42.83" width="1.55" height="10.04" fill="#e2e0f0"/>
<rect x="70.10" y="42.83" width="1.78" height="10.04" fill="#f6f0f2"/>
<rect x="71.53" y="42.83" width="0.52" height="10.04" fill="#e2e0f0"/>
<rect x="71.70" y="42.83" width="1.35" height="10.04" fill="#9894ce"/>
<rect x="72.70" y="42.83" width="1.43" height="10.04" fill="#c4c2e4"/>
<rect x="73.78" y="42.83" width="0.77" height="10.04" fill="#c4c2e4"/>
<rect x="74.20" y="42.83" width="1.72" height="10.04" fill="#f8e0dc"/>
<rect x="75.57" y="42.83" width="1.44" height="10.04" fill="#f8e0dc"/>
<rect x="76.65" y="42.83" width="0.40" height="10.04" fill="#f8e0dc"/>
<rect x="76.70" y="42.83" width="2.05" height="10.04" fill="#f6f0f2"/>
<rect x="78.40" y="42.83" width="1.71" height="10.04" fill="#f8c8c0"/>
<rect x="79.76" y="42.83" width="1.53" height="10.04" fill="#f8c8c0"/>
<rect x="80.94" y="42.83" width="1.74" height="10.04" fill="#f8c8c0"/>
<rect x="82.34" y="42.83" width="1.79" height="10.04" fill="#f8c8c0"/>
<rect x="83.77" y="42.83" width="1.79" height="10.04" fill="#f5a898"/>
<rect x="85.21" y="42.83" width="1.14" height="10.04" fill="#f8c8c0"/>
<rect x="86.00" y="42.83" width="2.29" height="10.04" fill="#f5a898"/>
<rect x="87.94" y="42.83" width="1.63" height="10.04" fill="#f5a898"/>
<rect x="89.22" y="42.83" width="1.23" height="10.04" fill="#f08070"/>
<rect x="90.10" y="42.83" width="2.05" height="10.04" fill="#9894ce"/>
<rect x="91.80" y="42.83" width="1.83" height="10.04" fill="#f6f0f2"/>
<rect x="93.28" y="42.83" width="2.13" height="10.04" fill="#c4c2e4"/>
<rect x="95.06" y="42.83" width="1.29" height="10.04" fill="#c4c2e4"/>
<rect x="96.00" y="42.83" width="1.89" height="10.04" fill="#f6f0f2"/>
<rect x="97.54" y="42.83" width="0.41" height="10.04" fill="#c4c2e4"/>
<rect x="97.60" y="42.83" width="2.10" height="10.04" fill="#f8c8c0"/>
<rect x="99.35" y="42.83" width="1.20" height="10.04" fill="#f6f0f2"/>
<rect x="100.20" y="42.83" width="1.48" height="10.04" fill="#f5a898"/>
<rect x="101.33" y="42.83" width="1.62" height="10.04" fill="#f5a898"/>
<rect x="102.59" y="42.83" width="0.46" height="10.04" fill="#f8c8c0"/>
<rect x="102.70" y="42.83" width="2.05" height="10.04" fill="#f6f0f2"/>
<rect x="104.40" y="42.83" width="1.81" height="10.04" fill="#f5a898"/>
<rect x="105.86" y="42.83" width="1.39" height="10.04" fill="#f5a898"/>
<rect x="106.90" y="42.83" width="1.85" height="10.04" fill="#f6f0f2"/>
<rect x="108.40" y="42.83" width="1.95" height="10.04" fill="#c4c2e4"/>
<rect x="110.00" y="42.83" width="1.65" height="10.04" fill="#f08070"/>
<rect x="111.30" y="42.83" width="2.05" height="10.04" fill="#f6f0f2"/>
<rect x="113.00" y="42.83" width="1.95" height="10.04" fill="#f8c8c0"/>
<rect x="114.60" y="42.83" width="2.05" height="10.04" fill="#e2e0f0"/>
<rect x="116.30" y="42.83" width="2.31" height="10.04" fill="#9894ce"/>
<rect x="118.26" y="42.83" width="0.89" height="10.04" fill="#7470b8"/>
<rect x="118.80" y="42.83" width="1.52" height="10.04" fill="#c4c2e4"/>
<rect x="119.97" y="42.83" width="1.77" height="10.04" fill="#e2e0f0"/>
<rect x="121.39" y="42.83" width="0.76" height="10.04" fill="#9894ce"/>
<rect x="121.80" y="42.83" width="2.45" height="10.04" fill="#c4c2e4"/>
<rect x="123.90" y="42.83" width="2.01" height="10.04" fill="#c4c2e4"/>
<rect x="125.56" y="42.83" width="1.59" height="10.04" fill="#c4c2e4"/>
<rect x="126.80" y="42.83" width="1.31" height="10.04" fill="#f08070"/>
<rect x="127.76" y="42.83" width="1.85" height="10.04" fill="#f5a898"/>
<rect x="129.25" y="42.83" width="1.20" height="10.04" fill="#f8c8c0"/>
<rect x="130.10" y="42.83" width="1.41" height="10.04" fill="#ee5644"/>
<rect x="131.16" y="42.83" width="1.49" height="10.04" fill="#ee5644"/>
<rect x="132.31" y="42.83" width="1.97" height="10.04" fill="#ee5644"/>
<rect x="133.93" y="42.83" width="1.42" height="10.04" fill="#ee5644"/>
<rect x="135.00" y="42.83" width="1.35" height="10.04" fill="#f06a58"/>
<rect x="136.00" y="42.83" width="1.86" height="10.04" fill="#ec4630"/>
<rect x="137.51" y="42.83" width="1.77" height="10.04" fill="#ec4630"/>
<rect x="138.93" y="42.83" width="1.61" height="10.04" fill="#ec4630"/>
<rect x="140.18" y="42.83" width="1.32" height="10.04" fill="#ec4630"/>
<rect x="141.15" y="42.83" width="2.28" height="10.04" fill="#ec4630"/>
<rect x="143.08" y="42.83" width="1.36" height="10.04" fill="#ec4630"/>
<rect x="144.09" y="42.83" width="1.26" height="10.04" fill="#ec4630"/>
<rect x="145.00" y="42.83" width="2.35" height="10.04" fill="#ee5644"/>
<rect x="147.00" y="42.83" width="1.85" height="10.04" fill="#f06a58"/>
<rect x="148.50" y="42.83" width="2.21" height="10.04" fill="#ec4630"/>
<rect x="150.36" y="42.83" width="2.27" height="10.04" fill="#ec4630"/>
<rect x="152.29" y="42.83" width="1.30" height="10.04" fill="#ec4630"/>
<rect x="153.24" y="42.83" width="2.21" height="10.04" fill="#ec4630"/>
<rect x="155.10" y="42.83" width="1.77" height="10.04" fill="#e2e0f0"/>
<rect x="156.52" y="42.83" width="1.83" height="10.04" fill="#c4c2e4"/>
<rect x="158.00" y="42.83" width="2.45" height="10.04" fill="#f5a898"/>
<rect x="160.10" y="42.83" width="2.05" height="10.04" fill="#f6f0f2"/>
<rect x="161.80" y="42.83" width="2.32" height="10.04" fill="#f8c8c0"/>
<rect x="163.77" y="42.83" width="1.68" height="10.04" fill="#f5a898"/>
<rect x="165.10" y="42.83" width="2.05" height="10.04" fill="#f06a58"/>
<rect x="166.80" y="42.83" width="1.25" height="10.04" fill="#f08070"/>
<rect x="167.70" y="42.83" width="1.95" height="10.04" fill="#f8e0dc"/>
<rect x="169.30" y="42.83" width="1.69" height="10.04" fill="#f08070"/>
<rect x="170.64" y="42.83" width="1.63" height="10.04" fill="#f08070"/>
<rect x="171.92" y="42.83" width="0.73" height="10.04" fill="#f06a58"/>
<rect x="172.30" y="42.83" width="1.65" height="10.04" fill="#f6f0f2"/>
<rect x="173.60" y="42.83" width="2.55" height="10.04" fill="#f06a58"/>
<rect x="175.80" y="42.83" width="2.31" height="10.04" fill="#f8e0dc"/>
<rect x="177.76" y="42.83" width="2.17" height="10.04" fill="#f8e0dc"/>
<rect x="179.58" y="42.83" width="0.77" height="10.04" fill="#f8c8c0"/>
<rect x="180.00" y="42.83" width="1.95" height="10.04" fill="#9894ce"/>
<rect x="181.60" y="42.83" width="1.62" height="10.04" fill="#c4c2e4"/>
<rect x="182.87" y="42.83" width="1.91" height="10.04" fill="#e2e0f0"/>
<rect x="184.44" y="42.83" width="1.71" height="10.04" fill="#c4c2e4"/>
<rect x="185.80" y="42.83" width="1.65" height="10.04" fill="#f8c8c0"/>
<rect x="187.10" y="42.83" width="2.45" height="10.04" fill="#c4c2e4"/>
<rect x="189.20" y="42.83" width="1.66" height="10.04" fill="#7470b8"/>
<rect x="190.51" y="42.83" width="1.52" height="10.04" fill="#7470b8"/>
<rect x="191.68" y="42.83" width="2.32" height="10.04" fill="#7470b8"/>
<rect x="193.65" y="42.83" width="0.50" height="10.04" fill="#625eae"/>
<rect x="193.80" y="42.83" width="1.55" height="10.04" fill="#c4c2e4"/>
<rect x="195.00" y="42.83" width="1.52" height="10.04" fill="#7470b8"/>
<rect x="196.17" y="42.83" width="1.28" height="10.04" fill="#9894ce"/>
<rect x="197.10" y="42.83" width="2.00" height="10.04" fill="#9894ce"/>
<rect x="198.76" y="42.83" width="1.59" height="10.04" fill="#9894ce"/>
<rect x="200.00" y="42.83" width="1.50" height="10.04" fill="#7470b8"/>
<rect x="201.15" y="42.83" width="1.94" height="10.04" fill="#7470b8"/>
<rect x="202.73" y="42.83" width="0.62" height="10.04" fill="#7470b8"/>
<rect x="203.00" y="42.83" width="2.35" height="10.04" fill="#c4c2e4"/>
<rect x="205.00" y="42.83" width="2.01" height="10.04" fill="#9894ce"/>
<rect x="206.66" y="42.83" width="1.91" height="10.04" fill="#9894ce"/>
<rect x="208.22" y="42.83" width="2.08" height="10.04" fill="#c4c2e4"/>
<rect x="209.95" y="42.83" width="0.40" height="10.04" fill="#9894ce"/>
<rect x="210.00" y="42.83" width="1.30" height="10.04" fill="#c4c2e4"/>
<rect x="210.95" y="42.83" width="1.76" height="10.04" fill="#c4c2e4"/>
<rect x="212.36" y="42.83" width="0.99" height="10.04" fill="#c4c2e4"/>
<rect x="213.00" y="42.83" width="1.59" height="10.04" fill="#7470b8"/>
<rect x="214.24" y="42.83" width="1.82" height="10.04" fill="#9894ce"/>
<rect x="215.71" y="42.83" width="1.78" height="10.04" fill="#9894ce"/>
<rect x="217.14" y="42.83" width="1.21" height="10.04" fill="#9894ce"/>
<rect x="218.00" y="42.83" width="1.44" height="10.04" fill="#e2e0f0"/>
<rect x="219.09" y="42.83" width="1.28" height="10.04" fill="#e2e0f0"/>
<rect x="220.02" y="42.83" width="1.32" height="10.04" fill="#c4c2e4"/>
<rect x="220.99" y="42.83" width="1.36" height="10.04" fill="#f6f0f2"/>
<rect x="222.00" y="42.83" width="1.90" height="10.04" fill="#5450a6"/>
<rect x="223.55" y="42.83" width="2.14" height="10.04" fill="#3e3a98"/>
<rect x="225.34" y="42.83" width="2.19" height="10.04" fill="#5450a6"/>
<rect x="227.18" y="42.83" width="1.64" height="10.04" fill="#5450a6"/>
<rect x="228.47" y="42.83" width="2.35" height="10.04" fill="#5450a6"/>
<rect x="230.47" y="42.83" width="1.27" height="10.04" fill="#625eae"/>
<rect x="231.39" y="42.83" width="1.44" height="10.04" fill="#3e3a98"/>
<rect x="232.47" y="42.83" width="1.38" height="10.04" fill="#5450a6"/>
<rect x="233.50" y="42.83" width="1.50" height="10.04" fill="#5450a6"/>
<rect x="234.65" y="42.83" width="0.70" height="10.04" fill="#3e3a98"/>
<rect x="235.00" y="42.83" width="1.73" height="10.04" fill="#9894ce"/>
<rect x="236.38" y="42.83" width="1.97" height="10.04" fill="#7470b8"/>
<rect x="32.50" y="52.28" width="2.31" height="10.04" fill="#f8c8c0"/>
<rect x="34.46" y="52.28" width="1.42" height="10.04" fill="#f5a898"/>
<rect x="35.54" y="52.28" width="0.61" height="10.04" fill="#f5a898"/>
<rect x="35.80" y="52.28" width="1.55" height="10.04" fill="#f6f0f2"/>
<rect x="37.00" y="52.28" width="2.00" height="10.04" fill="#f8c8c0"/>
<rect x="38.65" y="52.28" width="1.70" height="10.04" fill="#f5a898"/>
<rect x="40.00" y="52.28" width="1.95" height="10.04" fill="#f6f0f2"/>
<rect x="41.60" y="52.28" width="2.45" height="10.04" fill="#f5a898"/>
<rect x="43.70" y="52.28" width="1.76" height="10.04" fill="#f8e0dc"/>
<rect x="45.11" y="52.28" width="1.68" height="10.04" fill="#f6f0f2"/>
<rect x="46.44" y="52.28" width="2.21" height="10.04" fill="#f8e0dc"/>
<rect x="48.31" y="52.28" width="0.84" height="10.04" fill="#f8e0dc"/>
<rect x="48.80" y="52.28" width="1.81" height="10.04" fill="#ec4630"/>
<rect x="50.26" y="52.28" width="2.17" height="10.04" fill="#ee5644"/>
<rect x="52.09" y="52.28" width="0.76" height="10.04" fill="#ee5644"/>
<rect x="52.50" y="52.28" width="1.73" height="10.04" fill="#f06a58"/>
<rect x="53.88" y="52.28" width="1.70" height="10.04" fill="#f08070"/>
<rect x="55.23" y="52.28" width="0.62" height="10.04" fill="#f08070"/>
<rect x="55.50" y="52.28" width="2.29" height="10.04" fill="#f8c8c0"/>
<rect x="57.44" y="52.28" width="0.91" height="10.04" fill="#f5a898"/>
<rect x="58.00" y="52.28" width="2.11" height="10.04" fill="#f08070"/>
<rect x="59.76" y="52.28" width="1.09" height="10.04" fill="#f08070"/>
<rect x="60.50" y="52.28" width="1.42" height="10.04" fill="#f5a898"/>
<rect x="61.57" y="52.28" width="2.23" height="10.04" fill="#f5a898"/>
<rect x="63.45" y="52.28" width="0.80" height="10.04" fill="#f5a898"/>
<rect x="63.90" y="52.28" width="2.26" height="10.04" fill="#c4c2e4"/>
<rect x="65.81" y="52.28" width="1.45" height="10.04" fill="#e2e0f0"/>
<rect x="66.91" y="52.28" width="0.64" height="10.04" fill="#f6f0f2"/>
<rect x="67.20" y="52.28" width="2.05" height="10.04" fill="#c4c2e4"/>
<rect x="68.90" y="52.28" width="1.43" height="10.04" fill="#f6f0f2"/>
<rect x="69.98" y="52.28" width="1.68" height="10.04" fill="#f6f0f2"/>
<rect x="71.31" y="52.28" width="0.74" height="10.04" fill="#f6f0f2"/>
<rect x="71.70" y="52.28" width="2.05" height="10.04" fill="#c4c2e4"/>
<rect x="73.40" y="52.28" width="2.08" height="10.04" fill="#f8c8c0"/>
<rect x="75.13" y="52.28" width="1.12" height="10.04" fill="#f5a898"/>
<rect x="75.90" y="52.28" width="1.68" height="10.04" fill="#f8e0dc"/>
<rect x="77.23" y="52.28" width="1.52" height="10.04" fill="#f6f0f2"/>
<rect x="78.40" y="52.28" width="1.57" height="10.04" fill="#f8e0dc"/>
<rect x="79.62" y="52.28" width="1.63" height="10.04" fill="#f5a898"/>
<rect x="80.90" y="52.28" width="1.87" height="10.04" fill="#f8e0dc"/>
<rect x="82.42" y="52.28" width="1.33" height="10.04" fill="#f8e0dc"/>
<rect x="83.40" y="52.28" width="1.77" height="10.04" fill="#f08070"/>
<rect x="84.82" y="52.28" width="1.50" height="10.04" fill="#f5a898"/>
<rect x="85.98" y="52.28" width="1.17" height="10.04" fill="#f5a898"/>
<rect x="86.80" y="52.28" width="2.00" height="10.04" fill="#f8e0dc"/>
<rect x="88.45" y="52.28" width="1.31" height="10.04" fill="#f8e0dc"/>
<rect x="89.41" y="52.28" width="1.04" height="10.04" fill="#f8e0dc"/>
<rect x="90.10" y="52.28" width="2.05" height="10.04" fill="#f6f0f2"/>
<rect x="91.80" y="52.28" width="1.31" height="10.04" fill="#e2e0f0"/>
<rect x="92.76" y="52.28" width="1.58" height="10.04" fill="#e2e0f0"/>
<rect x="93.99" y="52.28" width="1.85" height="10.04" fill="#f6f0f2"/>
<rect x="95.50" y="52.28" width="0.85" height="10.04" fill="#e2e0f0"/>
<rect x="96.00" y="52.28" width="1.95" height="10.04" fill="#ec4630"/>
<rect x="97.60" y="52.28" width="2.55" height="10.04" fill="#f8c8c0"/>
<rect x="99.80" y="52.28" width="1.27" height="10.04" fill="#f06a58"/>
<rect x="100.72" y="52.28" width="1.63" height="10.04" fill="#f06a58"/>
<rect x="102.00" y="52.28" width="1.82" height="10.04" fill="#f08070"/>
<rect x="103.47" y="52.28" width="0.38" height="10.04" fill="#f06a58"/>
<rect x="103.50" y="52.28" width="1.61" height="10.04" fill="#ec4630"/>
<rect x="104.76" y="52.28" width="1.79" height="10.04" fill="#ec4630"/>
<rect x="106.20" y="52.28" width="2.02" height="10.04" fill="#f06a58"/>
<rect x="107.87" y="52.28" width="0.88" height="10.04" fill="#ee5644"/>
<rect x="108.40" y="52.28" width="2.35" height="10.04" fill="#f8e0dc"/>
<rect x="110.40" y="52.28" width="1.65" height="10.04" fill="#f6f0f2"/>
<rect x="111.70" y="52.28" width="2.15" height="10.04" fill="#f5a898"/>
<rect x="113.50" y="52.28" width="2.35" height="10.04" fill="#f6f0f2"/>
<rect x="115.50" y="52.28" width="1.81" height="10.04" fill="#9894ce"/>
<rect x="116.96" y="52.28" width="2.19" height="10.04" fill="#9894ce"/>
<rect x="118.80" y="52.28" width="2.05" height="10.04" fill="#f8c8c0"/>
<rect x="120.50" y="52.28" width="2.05" height="10.04" fill="#f6f0f2"/>
<rect x="122.20" y="52.28" width="2.45" height="10.04" fill="#f8c8c0"/>
<rect x="124.30" y="52.28" width="1.69" height="10.04" fill="#c4c2e4"/>
<rect x="125.64" y="52.28" width="1.51" height="10.04" fill="#e2e0f0"/>
<rect x="126.80" y="52.28" width="1.63" height="10.04" fill="#ee5644"/>
<rect x="128.08" y="52.28" width="1.85" height="10.04" fill="#ee5644"/>
<rect x="129.58" y="52.28" width="2.25" height="10.04" fill="#ee5644"/>
<rect x="131.48" y="52.28" width="0.67" height="10.04" fill="#f06a58"/>
<rect x="131.80" y="52.28" width="1.55" height="10.04" fill="#f06a58"/>
<rect x="133.00" y="52.28" width="2.03" height="10.04" fill="#ee5644"/>
<rect x="134.68" y="52.28" width="1.43" height="10.04" fill="#ec4630"/>
<rect x="135.75" y="52.28" width="1.66" height="10.04" fill="#f06a58"/>
<rect x="137.06" y="52.28" width="0.59" height="10.04" fill="#ee5644"/>
<rect x="137.30" y="52.28" width="1.15" height="10.04" fill="#f08070"/>
<rect x="138.10" y="52.28" width="1.90" height="10.04" fill="#ee5644"/>
<rect x="139.65" y="52.28" width="2.00" height="10.04" fill="#ee5644"/>
<rect x="141.30" y="52.28" width="1.76" height="10.04" fill="#ee5644"/>
<rect x="142.71" y="52.28" width="1.87" height="10.04" fill="#ee5644"/>
<rect x="144.23" y="52.28" width="1.12" height="10.04" fill="#ec4630"/>
<rect x="145.00" y="52.28" width="2.05" height="10.04" fill="#f06a58"/>
<rect x="146.70" y="52.28" width="1.64" height="10.04" fill="#ec4630"/>
<rect x="147.99" y="52.28" width="1.96" height="10.04" fill="#ee5644"/>
<rect x="149.60" y="52.28" width="2.05" height="10.04" fill="#f06a58"/>
<rect x="151.30" y="52.28" width="2.11" height="10.04" fill="#ec4630"/>
<rect x="153.06" y="52.28" width="1.48" height="10.04" fill="#ec4630"/>
<rect x="154.19" y="52.28" width="2.12" height="10.04" fill="#ec4630"/>
<rect x="155.96" y="52.28" width="1.84" height="10.04" fill="#ec4630"/>
<rect x="157.45" y="52.28" width="1.50" height="10.04" fill="#ee5644"/>
<rect x="158.60" y="52.28" width="1.66" height="10.04" fill="#ee5644"/>
<rect x="159.91" y="52.28" width="1.66" height="10.04" fill="#ec4630"/>
<rect x="161.22" y="52.28" width="1.80" height="10.04" fill="#ec4630"/>
<rect x="162.67" y="52.28" width="1.77" height="10.04" fill="#ec4630"/>
<rect x="164.09" y="52.28" width="1.91" height="10.04" fill="#ec4630"/>
<rect x="165.65" y="52.28" width="1.72" height="10.04" fill="#ec4630"/>
<rect x="167.01" y="52.28" width="2.32" height="10.04" fill="#ee5644"/>
<rect x="168.98" y="52.28" width="1.75" height="10.04" fill="#ec4630"/>
<rect x="170.38" y="52.28" width="1.97" height="10.04" fill="#ee5644"/>
<rect x="172.00" y="52.28" width="1.92" height="10.04" fill="#ec4630"/>
<rect x="173.57" y="52.28" width="0.38" height="10.04" fill="#ec4630"/>
<rect x="173.60" y="52.28" width="2.55" height="10.04" fill="#e2e0f0"/>
<rect x="175.80" y="52.28" width="1.55" height="10.04" fill="#9894ce"/>
<rect x="177.00" y="52.28" width="1.76" height="10.04" fill="#f6f0f2"/>
<rect x="178.41" y="52.28" width="1.68" height="10.04" fill="#f6f0f2"/>
<rect x="179.74" y="52.28" width="1.01" height="10.04" fill="#f6f0f2"/>
<rect x="180.40" y="52.28" width="2.08" height="10.04" fill="#c4c2e4"/>
<rect x="182.13" y="52.28" width="1.12" height="10.04" fill="#9894ce"/>
<rect x="182.90" y="52.28" width="2.32" height="10.04" fill="#e2e0f0"/>
<rect x="184.87" y="52.28" width="0.98" height="10.04" fill="#c4c2e4"/>
<rect x="185.50" y="52.28" width="1.44" height="10.04" fill="#c4c2e4"/>
<rect x="186.59" y="52.28" width="1.69" height="10.04" fill="#e2e0f0"/>
<rect x="187.93" y="52.28" width="1.62" height="10.04" fill="#e2e0f0"/>
<rect x="189.20" y="52.28" width="1.53" height="10.04" fill="#9894ce"/>
<rect x="190.38" y="52.28" width="1.55" height="10.04" fill="#9894ce"/>
<rect x="191.58" y="52.28" width="1.58" height="10.04" fill="#9894ce"/>
<rect x="192.81" y="52.28" width="0.54" height="10.04" fill="#c4c2e4"/>
<rect x="193.00" y="52.28" width="2.26" height="10.04" fill="#625eae"/>
<rect x="194.91" y="52.28" width="1.44" height="10.04" fill="#7470b8"/>
<rect x="196.00" y="52.28" width="1.82" height="10.04" fill="#9894ce"/>
<rect x="197.47" y="52.28" width="1.88" height="10.04" fill="#c4c2e4"/>
<rect x="199.00" y="52.28" width="1.72" height="10.04" fill="#7470b8"/>
<rect x="200.37" y="52.28" width="2.15" height="10.04" fill="#7470b8"/>
<rect x="202.17" y="52.28" width="1.77" height="10.04" fill="#7470b8"/>
<rect x="203.58" y="52.28" width="0.77" height="10.04" fill="#7470b8"/>
<rect x="204.00" y="52.28" width="2.21" height="10.04" fill="#c4c2e4"/>
<rect x="205.86" y="52.28" width="1.49" height="10.04" fill="#c4c2e4"/>
<rect x="207.00" y="52.28" width="2.33" height="10.04" fill="#7470b8"/>
<rect x="208.98" y="52.28" width="1.98" height="10.04" fill="#625eae"/>
<rect x="210.61" y="52.28" width="1.74" height="10.04" fill="#7470b8"/>
<rect x="212.00" y="52.28" width="2.06" height="10.04" fill="#9894ce"/>
<rect x="213.71" y="52.28" width="1.64" height="10.04" fill="#c4c2e4"/>
<rect x="215.00" y="52.28" width="1.53" height="10.04" fill="#9894ce"/>
<rect x="216.18" y="52.28" width="2.33" height="10.04" fill="#7470b8"/>
<rect x="218.16" y="52.28" width="2.17" height="10.04" fill="#7470b8"/>
<rect x="219.98" y="52.28" width="0.37" height="10.04" fill="#7470b8"/>
<rect x="220.00" y="52.28" width="2.21" height="10.04" fill="#f6f0f2"/>
<rect x="221.86" y="52.28" width="1.49" height="10.04" fill="#f6f0f2"/>
<rect x="223.00" y="52.28" width="2.19" height="10.04" fill="#5450a6"/>
<rect x="224.84" y="52.28" width="1.95" height="10.04" fill="#5450a6"/>
<rect x="226.43" y="52.28" width="1.61" height="10.04" fill="#3e3a98"/>
<rect x="227.70" y="52.28" width="1.54" height="10.04" fill="#3e3a98"/>
<rect x="228.88" y="52.28" width="0.47" height="10.04" fill="#5450a6"/>
<rect x="229.00" y="52.28" width="1.82" height="10.04" fill="#9894ce"/>
<rect x="230.47" y="52.28" width="1.88" height="10.04" fill="#c4c2e4"/>
<rect x="232.00" y="52.28" width="1.71" height="10.04" fill="#7470b8"/>
<rect x="233.36" y="52.28" width="1.94" height="10.04" fill="#7470b8"/>
<rect x="234.96" y="52.28" width="2.26" height="10.04" fill="#7470b8"/>
<rect x="236.87" y="52.28" width="1.48" height="10.04" fill="#7470b8"/>
<rect x="32.50" y="61.72" width="1.65" height="10.04" fill="#f08070"/>
<rect x="33.80" y="61.72" width="1.71" height="10.04" fill="#f08070"/>
<rect x="35.16" y="61.72" width="0.59" height="10.04" fill="#f08070"/>
<rect x="35.40" y="61.72" width="1.53" height="10.04" fill="#f5a898"/>
<rect x="36.58" y="61.72" width="1.26" height="10.04" fill="#f08070"/>
<rect x="37.50" y="61.72" width="1.15" height="10.04" fill="#f5a898"/>
<rect x="38.30" y="61.72" width="2.45" height="10.04" fill="#f6f0f2"/>
<rect x="40.40" y="61.72" width="1.55" height="10.04" fill="#f06a58"/>
<rect x="41.60" y="61.72" width="2.45" height="10.04" fill="#f8c8c0"/>
<rect x="43.70" y="61.72" width="1.91" height="10.04" fill="#f8c8c0"/>
<rect x="45.26" y="61.72" width="2.09" height="10.04" fill="#f8c8c0"/>
<rect x="47.00" y="61.72" width="2.14" height="10.04" fill="#f8c8c0"/>
<rect x="48.79" y="61.72" width="1.28" height="10.04" fill="#f8c8c0"/>
<rect x="49.72" y="61.72" width="0.63" height="10.04" fill="#f8e0dc"/>
<rect x="50.00" y="61.72" width="2.45" height="10.04" fill="#e2e0f0"/>
<rect x="52.10" y="61.72" width="2.45" height="10.04" fill="#f5a898"/>
<rect x="54.20" y="61.72" width="1.65" height="10.04" fill="#f06a58"/>
<rect x="55.50" y="61.72" width="2.11" height="10.04" fill="#f8c8c0"/>
<rect x="57.26" y="61.72" width="1.71" height="10.04" fill="#f5a898"/>
<rect x="58.62" y="61.72" width="0.53" height="10.04" fill="#f8c8c0"/>
<rect x="58.80" y="61.72" width="2.29" height="10.04" fill="#f5a898"/>
<rect x="60.74" y="61.72" width="1.56" height="10.04" fill="#f5a898"/>
<rect x="61.95" y="61.72" width="1.83" height="10.04" fill="#f5a898"/>
<rect x="63.43" y="61.72" width="0.82" height="10.04" fill="#f06a58"/>
<rect x="63.90" y="61.72" width="1.32" height="10.04" fill="#f06a58"/>
<rect x="64.87" y="61.72" width="2.05" height="10.04" fill="#ee5644"/>
<rect x="66.57" y="61.72" width="1.27" height="10.04" fill="#f06a58"/>
<rect x="67.49" y="61.72" width="2.02" height="10.04" fill="#f08070"/>
<rect x="69.16" y="61.72" width="1.80" height="10.04" fill="#f08070"/>
<rect x="70.61" y="61.72" width="2.03" height="10.04" fill="#f06a58"/>
<rect x="72.28" y="61.72" width="2.24" height="10.04" fill="#f08070"/>
<rect x="74.17" y="61.72" width="1.18" height="10.04" fill="#f06a58"/>
<rect x="75.00" y="61.72" width="1.60" height="10.04" fill="#f08070"/>
<rect x="76.25" y="61.72" width="2.30" height="10.04" fill="#f08070"/>
<rect x="78.20" y="61.72" width="1.97" height="10.04" fill="#f08070"/>
<rect x="79.82" y="61.72" width="1.50" height="10.04" fill="#f5a898"/>
<rect x="80.97" y="61.72" width="1.85" height="10.04" fill="#f06a58"/>
<rect x="82.47" y="61.72" width="0.88" height="10.04" fill="#f08070"/>
<rect x="83.00" y="61.72" width="1.37" height="10.04" fill="#f5a898"/>
<rect x="84.02" y="61.72" width="2.28" height="10.04" fill="#f5a898"/>
<rect x="85.96" y="61.72" width="1.42" height="10.04" fill="#f5a898"/>
<rect x="87.03" y="61.72" width="1.32" height="10.04" fill="#f8c8c0"/>
<rect x="88.00" y="61.72" width="1.51" height="10.04" fill="#f06a58"/>
<rect x="89.16" y="61.72" width="1.36" height="10.04" fill="#ec4630"/>
<rect x="90.18" y="61.72" width="1.70" height="10.04" fill="#ee5644"/>
<rect x="91.52" y="61.72" width="0.83" height="10.04" fill="#ee5644"/>
<rect x="92.00" y="61.72" width="1.54" height="10.04" fill="#f8c8c0"/>
<rect x="93.19" y="61.72" width="1.72" height="10.04" fill="#f08070"/>
<rect x="94.56" y="61.72" width="1.36" height="10.04" fill="#f08070"/>
<rect x="95.57" y="61.72" width="0.78" height="10.04" fill="#f08070"/>
<rect x="96.00" y="61.72" width="1.95" height="10.04" fill="#f6f0f2"/>
<rect x="97.60" y="61.72" width="2.75" height="10.04" fill="#3e3a98"/>
<rect x="100.00" y="61.72" width="2.35" height="10.04" fill="#5450a6"/>
<rect x="102.00" y="61.72" width="1.73" height="10.04" fill="#9894ce"/>
<rect x="103.38" y="61.72" width="1.51" height="10.04" fill="#9894ce"/>
<rect x="104.54" y="61.72" width="2.21" height="10.04" fill="#9894ce"/>
<rect x="106.40" y="61.72" width="0.95" height="10.04" fill="#c4c2e4"/>
<rect x="107.00" y="61.72" width="2.35" height="10.04" fill="#9894ce"/>
<rect x="109.00" y="61.72" width="2.35" height="10.04" fill="#3e3a98"/>
<rect x="111.00" y="61.72" width="2.35" height="10.04" fill="#c4c2e4"/>
<rect x="113.00" y="61.72" width="2.16" height="10.04" fill="#f6f0f2"/>
<rect x="114.81" y="61.72" width="1.48" height="10.04" fill="#f6f0f2"/>
<rect x="115.94" y="61.72" width="1.27" height="10.04" fill="#f8e0dc"/>
<rect x="116.86" y="61.72" width="0.49" height="10.04" fill="#f6f0f2"/>
<rect x="117.00" y="61.72" width="2.08" height="10.04" fill="#f8e0dc"/>
<rect x="118.73" y="61.72" width="1.62" height="10.04" fill="#f8c8c0"/>
<rect x="120.00" y="61.72" width="1.48" height="10.04" fill="#e2e0f0"/>
<rect x="121.13" y="61.72" width="1.40" height="10.04" fill="#e2e0f0"/>
<rect x="122.18" y="61.72" width="2.09" height="10.04" fill="#e2e0f0"/>
<rect x="123.92" y="61.72" width="0.43" height="10.04" fill="#e2e0f0"/>
<rect x="124.00" y="61.72" width="1.31" height="10.04" fill="#e2e0f0"/>
<rect x="124.96" y="61.72" width="2.05" height="10.04" fill="#e2e0f0"/>
<rect x="126.66" y="61.72" width="0.49" height="10.04" fill="#e2e0f0"/>
<rect x="126.80" y="61.72" width="1.69" height="10.04" fill="#3e3a98"/>
<rect x="128.14" y="61.72" width="1.50" height="10.04" fill="#3e3a98"/>
<rect x="129.29" y="61.72" width="1.06" height="10.04" fill="#3e3a98"/>
<rect x="130.00" y="61.72" width="2.35" height="10.04" fill="#f6f0f2"/>
<rect x="132.00" y="61.72" width="1.49" height="10.04" fill="#f5a898"/>
<rect x="133.14" y="61.72" width="1.94" height="10.04" fill="#f8c8c0"/>
<rect x="134.73" y="61.72" width="0.62" height="10.04" fill="#f8c8c0"/>
<rect x="135.00" y="61.72" width="1.48" height="10.04" fill="#f8e0dc"/>
<rect x="136.13" y="61.72" width="1.94" height="10.04" fill="#f8e0dc"/>
<rect x="137.72" y="61.72" width="0.63" height="10.04" fill="#f8e0dc"/>
<rect x="138.00" y="61.72" width="2.35" height="10.04" fill="#7470b8"/>
<rect x="140.00" y="61.72" width="2.29" height="10.04" fill="#625eae"/>
<rect x="141.94" y="61.72" width="1.41" height="10.04" fill="#7470b8"/>
<rect x="143.00" y="61.72" width="1.81" height="10.04" fill="#f6f0f2"/>
<rect x="144.46" y="61.72" width="1.63" height="10.04" fill="#e2e0f0"/>
<rect x="145.75" y="61.72" width="0.60" height="10.04" fill="#e2e0f0"/>
<rect x="146.00" y="61.72" width="1.37" height="10.04" fill="#f5a898"/>
<rect x="147.02" y="61.72" width="2.05" height="10.04" fill="#f8c8c0"/>
<rect x="148.72" y="61.72" width="0.63" height="10.04" fill="#f8c8c0"/>
<rect x="149.00" y="61.72" width="1.42" height="10.04" fill="#7470b8"/>
<rect x="150.07" y="61.72" width="2.04" height="10.04" fill="#9894ce"/>
<rect x="151.76" y="61.72" width="0.59" height="10.04" fill="#9894ce"/>
<rect x="152.00" y="61.72" width="1.35" height="10.04" fill="#f6f0f2"/>
<rect x="153.00" y="61.72" width="1.76" height="10.04" fill="#f6f0f2"/>
<rect x="154.41" y="61.72" width="0.94" height="10.04" fill="#e2e0f0"/>
<rect x="155.00" y="61.72" width="2.35" height="10.04" fill="#7470b8"/>
<rect x="157.00" y="61.72" width="2.10" height="10.04" fill="#f6f0f2"/>
<rect x="158.75" y="61.72" width="1.60" height="10.04" fill="#f8e0dc"/>
<rect x="160.00" y="61.72" width="1.70" height="10.04" fill="#e2e0f0"/>
<rect x="161.35" y="61.72" width="1.90" height="10.04" fill="#c4c2e4"/>
<rect x="162.91" y="61.72" width="0.44" height="10.04" fill="#c4c2e4"/>
<rect x="163.00" y="61.72" width="2.35" height="10.04" fill="#f8c8c0"/>
<rect x="165.00" y="61.72" width="1.63" height="10.04" fill="#9894ce"/>
<rect x="166.28" y="61.72" width="1.48" height="10.04" fill="#9894ce"/>
<rect x="167.41" y="61.72" width="0.94" height="10.04" fill="#7470b8"/>
<rect x="168.00" y="61.72" width="1.70" height="10.04" fill="#9894ce"/>
<rect x="169.35" y="61.72" width="1.86" height="10.04" fill="#c4c2e4"/>
<rect x="170.86" y="61.72" width="1.63" height="10.04" fill="#9894ce"/>
<rect x="172.15" y="61.72" width="1.71" height="10.04" fill="#9894ce"/>
<rect x="173.50" y="61.72" width="0.45" height="10.04" fill="#7470b8"/>
<rect x="173.60" y="61.72" width="2.20" height="10.04" fill="#ec4630"/>
<rect x="175.45" y="61.72" width="2.07" height="10.04" fill="#ec4630"/>
<rect x="177.18" y="61.72" width="1.29" height="10.04" fill="#ec4630"/>
<rect x="178.12" y="61.72" width="1.25" height="10.04" fill="#ec4630"/>
<rect x="179.02" y="61.72" width="2.34" height="10.04" fill="#ec4630"/>
<rect x="181.01" y="61.72" width="1.57" height="10.04" fill="#ec4630"/>
<rect x="182.24" y="61.72" width="1.90" height="10.04" fill="#ec4630"/>
<rect x="183.79" y="61.72" width="1.28" height="10.04" fill="#ee5644"/>
<rect x="184.71" y="61.72" width="2.32" height="10.04" fill="#ee5644"/>
<rect x="186.68" y="61.72" width="1.90" height="10.04" fill="#ee5644"/>
<rect x="188.23" y="61.72" width="1.32" height="10.04" fill="#ec4630"/>
<rect x="189.20" y="61.72" width="1.87" height="10.04" fill="#f8e0dc"/>
<rect x="190.72" y="61.72" width="1.84" height="10.04" fill="#f8e0dc"/>
<rect x="192.21" y="61.72" width="1.14" height="10.04" fill="#f6f0f2"/>
<rect x="193.00" y="61.72" width="1.58" height="10.04" fill="#c4c2e4"/>
<rect x="194.23" y="61.72" width="2.12" height="10.04" fill="#c4c2e4"/>
<rect x="196.00" y="61.72" width="1.67" height="10.04" fill="#c4c2e4"/>
<rect x="197.32" y="61.72" width="2.34" height="10.04" fill="#c4c2e4"/>
<rect x="199.31" y="61.72" width="1.04" height="10.04" fill="#e2e0f0"/>
<rect x="200.00" y="61.72" width="2.23" height="10.04" fill="#7470b8"/>
<rect x="201.88" y="61.72" width="2.30" height="10.04" fill="#7470b8"/>
<rect x="203.83" y="61.72" width="1.52" height="10.04" fill="#625eae"/>
<rect x="205.00" y="61.72" width="1.77" height="10.04" fill="#7470b8"/>
<rect x="206.42" y="61.72" width="2.21" height="10.04" fill="#9894ce"/>
<rect x="208.28" y="61.72" width="1.42" height="10.04" fill="#9894ce"/>
<rect x="209.35" y="61.72" width="1.50" height="10.04" fill="#7470b8"/>
<rect x="210.50" y="61.72" width="1.85" height="10.04" fill="#9894ce"/>
<rect x="212.00" y="61.72" width="2.32" height="10.04" fill="#c4c2e4"/>
<rect x="213.97" y="61.72" width="2.09" height="10.04" fill="#9894ce"/>
<rect x="215.71" y="61.72" width="1.66" height="10.04" fill="#c4c2e4"/>
<rect x="217.02" y="61.72" width="1.33" height="10.04" fill="#9894ce"/>
<rect x="218.00" y="61.72" width="2.14" height="10.04" fill="#e2e0f0"/>
<rect x="219.79" y="61.72" width="1.84" height="10.04" fill="#c4c2e4"/>
<rect x="221.27" y="61.72" width="1.86" height="10.04" fill="#e2e0f0"/>
<rect x="222.78" y="61.72" width="2.18" height="10.04" fill="#c4c2e4"/>
<rect x="224.60" y="61.72" width="1.75" height="10.04" fill="#e2e0f0"/>
<rect x="226.00" y="61.72" width="1.25" height="10.04" fill="#c4c2e4"/>
<rect x="226.90" y="61.72" width="2.01" height="10.04" fill="#9894ce"/>
<rect x="228.56" y="61.72" width="1.61" height="10.04" fill="#9894ce"/>
<rect x="229.82" y="61.72" width="0.53" height="10.04" fill="#7470b8"/>
<rect x="230.00" y="61.72" width="1.59" height="10.04" fill="#9894ce"/>
<rect x="231.24" y="61.72" width="1.44" height="10.04" fill="#c4c2e4"/>
<rect x="232.33" y="61.72" width="1.64" height="10.04" fill="#9894ce"/>
<rect x="233.61" y="61.72" width="1.96" height="10.04" fill="#c4c2e4"/>
<rect x="235.22" y="61.72" width="2.27" height="10.04" fill="#c4c2e4"/>
<rect x="237.14" y="61.72" width="1.21" height="10.04" fill="#e2e0f0"/>
<rect x="32.50" y="71.17" width="1.82" height="10.04" fill="#f08070"/>
<rect x="33.97" y="71.17" width="2.18" height="10.04" fill="#f06a58"/>
<rect x="35.80" y="71.17" width="1.37" height="10.04" fill="#f5a898"/>
<rect x="36.82" y="71.17" width="2.15" height="10.04" fill="#f8c8c0"/>
<rect x="38.62" y="71.17" width="2.20" height="10.04" fill="#f8c8c0"/>
<rect x="40.46" y="71.17" width="0.69" height="10.04" fill="#f8c8c0"/>
<rect x="40.80" y="71.17" width="2.05" height="10.04" fill="#c4c2e4"/>
<rect x="42.50" y="71.17" width="2.45" height="10.04" fill="#f8e0dc"/>
<rect x="44.60" y="71.17" width="2.05" height="10.04" fill="#f8e0dc"/>
<rect x="46.30" y="71.17" width="1.40" height="10.04" fill="#f8c8c0"/>
<rect x="47.35" y="71.17" width="1.47" height="10.04" fill="#f8c8c0"/>
<rect x="48.47" y="71.17" width="0.68" height="10.04" fill="#f8c8c0"/>
<rect x="48.80" y="71.17" width="2.00" height="10.04" fill="#f8c8c0"/>
<rect x="50.45" y="71.17" width="1.20" height="10.04" fill="#f5a898"/>
<rect x="51.30" y="71.17" width="1.59" height="10.04" fill="#f8e0dc"/>
<rect x="52.54" y="71.17" width="1.61" height="10.04" fill="#f6f0f2"/>
<rect x="53.80" y="71.17" width="2.00" height="10.04" fill="#f8c8c0"/>
<rect x="55.45" y="71.17" width="1.81" height="10.04" fill="#f5a898"/>
<rect x="56.91" y="71.17" width="1.66" height="10.04" fill="#f5a898"/>
<rect x="58.22" y="71.17" width="1.31" height="10.04" fill="#f8c8c0"/>
<rect x="59.17" y="71.17" width="1.68" height="10.04" fill="#f5a898"/>
<rect x="60.50" y="71.17" width="1.51" height="10.04" fill="#f5a898"/>
<rect x="61.66" y="71.17" width="2.30" height="10.04" fill="#f5a898"/>
<rect x="63.62" y="71.17" width="0.63" height="10.04" fill="#f08070"/>
<rect x="63.90" y="71.17" width="1.46" height="10.04" fill="#f06a58"/>
<rect x="65.01" y="71.17" width="1.86" height="10.04" fill="#f06a58"/>
<rect x="66.52" y="71.17" width="1.39" height="10.04" fill="#f06a58"/>
<rect x="67.57" y="71.17" width="2.26" height="10.04" fill="#ee5644"/>
<rect x="69.47" y="71.17" width="0.88" height="10.04" fill="#f06a58"/>
<rect x="70.00" y="71.17" width="2.11" height="10.04" fill="#f06a58"/>
<rect x="71.76" y="71.17" width="2.08" height="10.04" fill="#ec4630"/>
<rect x="73.49" y="71.17" width="2.07" height="10.04" fill="#ee5644"/>
<rect x="75.21" y="71.17" width="1.31" height="10.04" fill="#ec4630"/>
<rect x="76.17" y="71.17" width="1.33" height="10.04" fill="#ee5644"/>
<rect x="77.15" y="71.17" width="1.20" height="10.04" fill="#f06a58"/>
<rect x="78.00" y="71.17" width="2.35" height="10.04" fill="#f8e0dc"/>
<rect x="80.00" y="71.17" width="1.69" height="10.04" fill="#f5a898"/>
<rect x="81.34" y="71.17" width="2.31" height="10.04" fill="#f5a898"/>
<rect x="83.30" y="71.17" width="1.68" height="10.04" fill="#f08070"/>
<rect x="84.63" y="71.17" width="2.31" height="10.04" fill="#f5a898"/>
<rect x="86.59" y="71.17" width="1.76" height="10.04" fill="#f08070"/>
<rect x="88.00" y="71.17" width="2.14" height="10.04" fill="#f06a58"/>
<rect x="89.79" y="71.17" width="2.14" height="10.04" fill="#ee5644"/>
<rect x="91.58" y="71.17" width="0.77" height="10.04" fill="#f06a58"/>
<rect x="92.00" y="71.17" width="2.17" height="10.04" fill="#f5a898"/>
<rect x="93.82" y="71.17" width="1.69" height="10.04" fill="#f8c8c0"/>
<rect x="95.17" y="71.17" width="1.85" height="10.04" fill="#f5a898"/>
<rect x="96.66" y="71.17" width="1.29" height="10.04" fill="#f5a898"/>
<rect x="97.60" y="71.17" width="2.75" height="10.04" fill="#5450a6"/>
<rect x="100.00" y="71.17" width="2.35" height="10.04" fill="#f6f0f2"/>
<rect x="102.00" y="71.17" width="1.88" height="10.04" fill="#9894ce"/>
<rect x="103.53" y="71.17" width="1.30" height="10.04" fill="#9894ce"/>
<rect x="104.49" y="71.17" width="1.90" height="10.04" fill="#9894ce"/>
<rect x="106.03" y="71.17" width="1.32" height="10.04" fill="#9894ce"/>
<rect x="107.00" y="71.17" width="2.35" height="10.04" fill="#9894ce"/>
<rect x="109.00" y="71.17" width="2.35" height="10.04" fill="#3e3a98"/>
<rect x="111.00" y="71.17" width="2.35" height="10.04" fill="#c4c2e4"/>
<rect x="113.00" y="71.17" width="1.94" height="10.04" fill="#f8e0dc"/>
<rect x="114.59" y="71.17" width="2.08" height="10.04" fill="#f8e0dc"/>
<rect x="116.32" y="71.17" width="1.03" height="10.04" fill="#f6f0f2"/>
<rect x="117.00" y="71.17" width="1.91" height="10.04" fill="#f8e0dc"/>
<rect x="118.56" y="71.17" width="1.79" height="10.04" fill="#f8e0dc"/>
<rect x="120.00" y="71.17" width="1.31" height="10.04" fill="#e2e0f0"/>
<rect x="120.96" y="71.17" width="2.31" height="10.04" fill="#c4c2e4"/>
<rect x="122.92" y="71.17" width="1.43" height="10.04" fill="#e2e0f0"/>
<rect x="124.00" y="71.17" width="2.35" height="10.04" fill="#c4c2e4"/>
<rect x="126.00" y="71.17" width="1.15" height="10.04" fill="#c4c2e4"/>
<rect x="126.80" y="71.17" width="1.90" height="10.04" fill="#3e3a98"/>
<rect x="128.35" y="71.17" width="1.83" height="10.04" fill="#3e3a98"/>
<rect x="129.83" y="71.17" width="0.52" height="10.04" fill="#3e3a98"/>
<rect x="130.00" y="71.17" width="2.35" height="10.04" fill="#f6f0f2"/>
<rect x="132.00" y="71.17" width="1.80" height="10.04" fill="#f8c8c0"/>
<rect x="133.45" y="71.17" width="1.77" height="10.04" fill="#f5a898"/>
<rect x="134.88" y="71.17" width="0.47" height="10.04" fill="#f5a898"/>
<rect x="135.00" y="71.17" width="1.62" height="10.04" fill="#f6f0f2"/>
<rect x="136.27" y="71.17" width="1.54" height="10.04" fill="#f8e0dc"/>
<rect x="137.46" y="71.17" width="0.89" height="10.04" fill="#f8c8c0"/>
<rect x="138.00" y="71.17" width="2.35" height="10.04" fill="#7470b8"/>
<rect x="140.00" y="71.17" width="2.03" height="10.04" fill="#f6f0f2"/>
<rect x="141.68" y="71.17" width="1.67" height="10.04" fill="#f6f0f2"/>
<rect x="143.00" y="71.17" width="2.35" height="10.04" fill="#9894ce"/>
<rect x="145.00" y="71.17" width="2.35" height="10.04" fill="#f6f0f2"/>
<rect x="147.00" y="71.17" width="1.75" height="10.04" fill="#7470b8"/>
<rect x="148.40" y="71.17" width="2.27" height="10.04" fill="#7470b8"/>
<rect x="150.32" y="71.17" width="1.28" height="10.04" fill="#7470b8"/>
<rect x="151.25" y="71.17" width="1.10" height="10.04" fill="#7470b8"/>
<rect x="152.00" y="71.17" width="2.06" height="10.04" fill="#f5a898"/>
<rect x="153.71" y="71.17" width="1.55" height="10.04" fill="#f5a898"/>
<rect x="154.91" y="71.17" width="0.44" height="10.04" fill="#f5a898"/>
<rect x="155.00" y="71.17" width="2.35" height="10.04" fill="#9894ce"/>
<rect x="157.00" y="71.17" width="1.34" height="10.04" fill="#f5a898"/>
<rect x="157.99" y="71.17" width="2.12" height="10.04" fill="#f5a898"/>
<rect x="159.76" y="71.17" width="0.59" height="10.04" fill="#f8c8c0"/>
<rect x="160.00" y="71.17" width="1.62" height="10.04" fill="#f6f0f2"/>
<rect x="161.27" y="71.17" width="1.52" height="10.04" fill="#f6f0f2"/>
<rect x="162.44" y="71.17" width="0.91" height="10.04" fill="#e2e0f0"/>
<rect x="163.00" y="71.17" width="2.35" height="10.04" fill="#c4c2e4"/>
<rect x="165.00" y="71.17" width="1.33" height="10.04" fill="#f8e0dc"/>
<rect x="165.98" y="71.17" width="2.00" height="10.04" fill="#f8e0dc"/>
<rect x="167.63" y="71.17" width="0.72" height="10.04" fill="#f8e0dc"/>
<rect x="168.00" y="71.17" width="2.32" height="10.04" fill="#9894ce"/>
<rect x="169.97" y="71.17" width="2.11" height="10.04" fill="#c4c2e4"/>
<rect x="171.74" y="71.17" width="1.83" height="10.04" fill="#9894ce"/>
<rect x="173.22" y="71.17" width="0.73" height="10.04" fill="#9894ce"/>
<rect x="173.60" y="71.17" width="1.42" height="10.04" fill="#ec4630"/>
<rect x="174.67" y="71.17" width="1.43" height="10.04" fill="#ec4630"/>
<rect x="175.75" y="71.17" width="1.60" height="10.04" fill="#ec4630"/>
<rect x="177.00" y="71.17" width="2.22" height="10.04" fill="#ec4630"/>
<rect x="178.87" y="71.17" width="1.70" height="10.04" fill="#ec4630"/>
<rect x="180.22" y="71.17" width="1.44" height="10.04" fill="#ec4630"/>
<rect x="181.30" y="71.17" width="2.11" height="10.04" fill="#ec4630"/>
<rect x="183.06" y="71.17" width="1.60" height="10.04" fill="#ec4630"/>
<rect x="184.31" y="71.17" width="2.08" height="10.04" fill="#ec4630"/>
<rect x="186.04" y="71.17" width="1.57" height="10.04" fill="#ec4630"/>
<rect x="187.25" y="71.17" width="1.80" height="10.04" fill="#ec4630"/>
<rect x="188.71" y="71.17" width="0.84" height="10.04" fill="#ee5644"/>
<rect x="189.20" y="71.17" width="1.72" height="10.04" fill="#9894ce"/>
<rect x="190.57" y="71.17" width="1.67" height="10.04" fill="#c4c2e4"/>
<rect x="191.89" y="71.17" width="1.33" height="10.04" fill="#c4c2e4"/>
<rect x="192.87" y="71.17" width="0.48" height="10.04" fill="#9894ce"/>
<rect x="193.00" y="71.17" width="2.07" height="10.04" fill="#7470b8"/>
<rect x="194.72" y="71.17" width="2.26" height="10.04" fill="#625eae"/>
<rect x="196.63" y="71.17" width="1.41" height="10.04" fill="#7470b8"/>
<rect x="197.69" y="71.17" width="1.51" height="10.04" fill="#7470b8"/>
<rect x="198.85" y="71.17" width="2.17" height="10.04" fill="#625eae"/>
<rect x="200.67" y="71.17" width="1.55" height="10.04" fill="#7470b8"/>
<rect x="201.87" y="71.17" width="2.32" height="10.04" fill="#625eae"/>
<rect x="203.84" y="71.17" width="1.51" height="10.04" fill="#5450a6"/>
<rect x="205.00" y="71.17" width="1.64" height="10.04" fill="#9894ce"/>
<rect x="206.29" y="71.17" width="1.69" height="10.04" fill="#9894ce"/>
<rect x="207.63" y="71.17" width="2.01" height="10.04" fill="#9894ce"/>
<rect x="209.29" y="71.17" width="2.10" height="10.04" fill="#c4c2e4"/>
<rect x="211.04" y="71.17" width="1.48" height="10.04" fill="#c4c2e4"/>
<rect x="212.17" y="71.17" width="2.06" height="10.04" fill="#9894ce"/>
<rect x="213.88" y="71.17" width="1.47" height="10.04" fill="#9894ce"/>
<rect x="215.00" y="71.17" width="2.18" height="10.04" fill="#9894ce"/>
<rect x="216.83" y="71.17" width="1.64" height="10.04" fill="#c4c2e4"/>
<rect x="218.12" y="71.17" width="1.39" height="10.04" fill="#c4c2e4"/>
<rect x="219.15" y="71.17" width="2.06" height="10.04" fill="#c4c2e4"/>
<rect x="220.87" y="71.17" width="1.35" height="10.04" fill="#e2e0f0"/>
<rect x="221.86" y="71.17" width="2.09" height="10.04" fill="#e2e0f0"/>
<rect x="223.61" y="71.17" width="1.67" height="10.04" fill="#9894ce"/>
<rect x="224.92" y="71.17" width="0.43" height="10.04" fill="#c4c2e4"/>
<rect x="225.00" y="71.17" width="1.49" height="10.04" fill="#7470b8"/>
<rect x="226.14" y="71.17" width="1.77" height="10.04" fill="#9894ce"/>
<rect x="227.56" y="71.17" width="2.33" height="10.04" fill="#9894ce"/>
<rect x="229.53" y="71.17" width="2.31" height="10.04" fill="#7470b8"/>
<rect x="231.49" y="71.17" width="0.86" height="10.04" fill="#7470b8"/>
<rect x="232.00" y="71.17" width="1.53" height="10.04" fill="#f8e0dc"/>
<rect x="233.18" y="71.17" width="1.57" height="10.04" fill="#f5a898"/>
<rect x="234.40" y="71.17" width="0.95" height="10.04" fill="#f8c8c0"/>
<rect x="235.00" y="71.17" width="1.83" height="10.04" fill="#9894ce"/>
<rect x="236.48" y="71.17" width="1.82" height="10.04" fill="#9894ce"/>
<rect x="237.95" y="71.17" width="0.40" height="10.04" fill="#9894ce"/>
<rect x="32.50" y="80.61" width="1.45" height="10.04" fill="#f8e0dc"/>
<rect x="33.60" y="80.61" width="1.62" height="10.04" fill="#f8c8c0"/>
<rect x="34.87" y="80.61" width="1.48" height="10.04" fill="#f8c8c0"/>
<rect x="36.00" y="80.61" width="2.35" height="10.04" fill="#f08070"/>
<rect x="38.00" y="80.61" width="1.75" height="10.04" fill="#f08070"/>
<rect x="39.40" y="80.61" width="1.95" height="10.04" fill="#f8c8c0"/>
<rect x="41.00" y="80.61" width="2.20" height="10.04" fill="#ee5644"/>
<rect x="42.85" y="80.61" width="1.51" height="10.04" fill="#ec4630"/>
<rect x="44.01" y="80.61" width="1.88" height="10.04" fill="#ec4630"/>
<rect x="45.54" y="80.61" width="1.49" height="10.04" fill="#f06a58"/>
<rect x="46.68" y="80.61" width="1.63" height="10.04" fill="#ee5644"/>
<rect x="47.96" y="80.61" width="1.39" height="10.04" fill="#ee5644"/>
<rect x="49.00" y="80.61" width="2.35" height="10.04" fill="#f5a898"/>
<rect x="51.00" y="80.61" width="1.63" height="10.04" fill="#ee5644"/>
<rect x="52.28" y="80.61" width="1.55" height="10.04" fill="#ec4630"/>
<rect x="53.48" y="80.61" width="1.86" height="10.04" fill="#f06a58"/>
<rect x="54.99" y="80.61" width="1.80" height="10.04" fill="#ee5644"/>
<rect x="56.43" y="80.61" width="1.92" height="10.04" fill="#ec4630"/>
<rect x="58.00" y="80.61" width="2.35" height="10.04" fill="#f5a898"/>
<rect x="60.00" y="80.61" width="1.39" height="10.04" fill="#f08070"/>
<rect x="61.04" y="80.61" width="1.88" height="10.04" fill="#f08070"/>
<rect x="62.58" y="80.61" width="1.47" height="10.04" fill="#f06a58"/>
<rect x="63.70" y="80.61" width="2.12" height="10.04" fill="#f08070"/>
<rect x="65.47" y="80.61" width="0.88" height="10.04" fill="#f08070"/>
<rect x="66.00" y="80.61" width="1.79" height="10.04" fill="#f5a898"/>
<rect x="67.44" y="80.61" width="1.79" height="10.04" fill="#f8c8c0"/>
<rect x="68.88" y="80.61" width="1.85" height="10.04" fill="#f08070"/>
<rect x="70.38" y="80.61" width="1.97" height="10.04" fill="#f5a898"/>
<rect x="72.00" y="80.61" width="2.00" height="10.04" fill="#f08070"/>
<rect x="73.65" y="80.61" width="2.33" height="10.04" fill="#f5a898"/>
<rect x="75.63" y="80.61" width="1.78" height="10.04" fill="#f08070"/>
<rect x="77.06" y="80.61" width="1.45" height="10.04" fill="#f08070"/>
<rect x="78.16" y="80.61" width="1.55" height="10.04" fill="#f08070"/>
<rect x="79.36" y="80.61" width="0.99" height="10.04" fill="#f06a58"/>
<rect x="80.00" y="80.61" width="2.05" height="10.04" fill="#f5a898"/>
<rect x="81.70" y="80.61" width="2.25" height="10.04" fill="#f5a898"/>
<rect x="83.61" y="80.61" width="2.02" height="10.04" fill="#f5a898"/>
<rect x="85.28" y="80.61" width="1.07" height="10.04" fill="#f5a898"/>
<rect x="86.00" y="80.61" width="2.10" height="10.04" fill="#f08070"/>
<rect x="87.75" y="80.61" width="2.14" height="10.04" fill="#f08070"/>
<rect x="89.53" y="80.61" width="1.26" height="10.04" fill="#f08070"/>
<rect x="90.44" y="80.61" width="0.91" height="10.04" fill="#f08070"/>
<rect x="91.00" y="80.61" width="1.26" height="10.04" fill="#ee5644"/>
<rect x="91.91" y="80.61" width="1.53" height="10.04" fill="#ee5644"/>
<rect x="93.09" y="80.61" width="1.78" height="10.04" fill="#ee5644"/>
<rect x="94.52" y="80.61" width="1.83" height="10.04" fill="#ee5644"/>
<rect x="96.00" y="80.61" width="1.95" height="10.04" fill="#f6f0f2"/>
<rect x="97.60" y="80.61" width="2.17" height="10.04" fill="#ec4630"/>
<rect x="99.42" y="80.61" width="1.50" height="10.04" fill="#ec4630"/>
<rect x="100.57" y="80.61" width="1.44" height="10.04" fill="#ec4630"/>
<rect x="101.66" y="80.61" width="1.94" height="10.04" fill="#ec4630"/>
<rect x="103.26" y="80.61" width="2.11" height="10.04" fill="#ec4630"/>
<rect x="105.01" y="80.61" width="2.08" height="10.04" fill="#ec4630"/>
<rect x="106.75" y="80.61" width="2.32" height="10.04" fill="#ec4630"/>
<rect x="108.72" y="80.61" width="2.27" height="10.04" fill="#ee5644"/>
<rect x="110.64" y="80.61" width="1.43" height="10.04" fill="#ec4630"/>
<rect x="111.72" y="80.61" width="2.35" height="10.04" fill="#ec4630"/>
<rect x="113.72" y="80.61" width="1.37" height="10.04" fill="#ec4630"/>
<rect x="114.73" y="80.61" width="1.64" height="10.04" fill="#ec4630"/>
<rect x="116.03" y="80.61" width="2.28" height="10.04" fill="#ec4630"/>
<rect x="117.96" y="80.61" width="1.69" height="10.04" fill="#ec4630"/>
<rect x="119.29" y="80.61" width="1.81" height="10.04" fill="#ec4630"/>
<rect x="120.76" y="80.61" width="2.35" height="10.04" fill="#ec4630"/>
<rect x="122.75" y="80.61" width="2.13" height="10.04" fill="#ec4630"/>
<rect x="124.53" y="80.61" width="1.69" height="10.04" fill="#ec4630"/>
<rect x="125.88" y="80.61" width="1.27" height="10.04" fill="#ec4630"/>
<rect x="126.80" y="80.61" width="1.35" height="10.04" fill="#f8c8c0"/>
<rect x="127.80" y="80.61" width="1.61" height="10.04" fill="#f8c8c0"/>
<rect x="129.06" y="80.61" width="1.29" height="10.04" fill="#f8c8c0"/>
<rect x="130.00" y="80.61" width="1.76" height="10.04" fill="#e2e0f0"/>
<rect x="131.41" y="80.61" width="1.49" height="10.04" fill="#f6f0f2"/>
<rect x="132.55" y="80.61" width="0.80" height="10.04" fill="#e2e0f0"/>
<rect x="133.00" y="80.61" width="2.35" height="10.04" fill="#f8e0dc"/>
<rect x="135.00" y="80.61" width="1.35" height="10.04" fill="#9894ce"/>
<rect x="136.00" y="80.61" width="2.35" height="10.04" fill="#f8e0dc"/>
<rect x="138.00" y="80.61" width="1.43" height="10.04" fill="#c4c2e4"/>
<rect x="139.08" y="80.61" width="1.35" height="10.04" fill="#c4c2e4"/>
<rect x="140.08" y="80.61" width="1.84" height="10.04" fill="#c4c2e4"/>
<rect x="141.57" y="80.61" width="0.78" height="10.04" fill="#c4c2e4"/>
<rect x="142.00" y="80.61" width="2.10" height="10.04" fill="#e2e0f0"/>
<rect x="143.75" y="80.61" width="1.60" height="10.04" fill="#e2e0f0"/>
<rect x="145.00" y="80.61" width="1.27" height="10.04" fill="#e2e0f0"/>
<rect x="145.92" y="80.61" width="2.28" height="10.04" fill="#c4c2e4"/>
<rect x="147.85" y="80.61" width="0.50" height="10.04" fill="#e2e0f0"/>
<rect x="148.00" y="80.61" width="2.08" height="10.04" fill="#f8c8c0"/>
<rect x="149.73" y="80.61" width="1.89" height="10.04" fill="#f8e0dc"/>
<rect x="151.26" y="80.61" width="1.09" height="10.04" fill="#f8c8c0"/>
<rect x="152.00" y="80.61" width="1.60" height="10.04" fill="#f5a898"/>
<rect x="153.25" y="80.61" width="1.50" height="10.04" fill="#f5a898"/>
<rect x="154.40" y="80.61" width="0.95" height="10.04" fill="#f5a898"/>
<rect x="155.00" y="80.61" width="1.99" height="10.04" fill="#f8e0dc"/>
<rect x="156.64" y="80.61" width="1.43" height="10.04" fill="#f8e0dc"/>
<rect x="157.72" y="80.61" width="0.63" height="10.04" fill="#f8e0dc"/>
<rect x="158.00" y="80.61" width="2.35" height="10.04" fill="#7470b8"/>
<rect x="160.00" y="80.61" width="1.93" height="10.04" fill="#e2e0f0"/>
<rect x="161.58" y="80.61" width="1.83" height="10.04" fill="#e2e0f0"/>
<rect x="163.05" y="80.61" width="1.64" height="10.04" fill="#f6f0f2"/>
<rect x="164.34" y="80.61" width="1.01" height="10.04" fill="#e2e0f0"/>
<rect x="165.00" y="80.61" width="1.57" height="10.04" fill="#ee5644"/>
<rect x="166.22" y="80.61" width="1.27" height="10.04" fill="#ee5644"/>
<rect x="167.13" y="80.61" width="2.21" height="10.04" fill="#ee5644"/>
<rect x="168.99" y="80.61" width="1.49" height="10.04" fill="#ec4630"/>
<rect x="170.13" y="80.61" width="2.34" height="10.04" fill="#ec4630"/>
<rect x="172.12" y="80.61" width="1.32" height="10.04" fill="#ee5644"/>
<rect x="173.09" y="80.61" width="0.86" height="10.04" fill="#ee5644"/>
<rect x="173.60" y="80.61" width="2.75" height="10.04" fill="#c4c2e4"/>
<rect x="176.00" y="80.61" width="2.35" height="10.04" fill="#f6f0f2"/>
<rect x="178.00" y="80.61" width="2.35" height="10.04" fill="#e2e0f0"/>
<rect x="180.00" y="80.61" width="2.35" height="10.04" fill="#f8e0dc"/>
<rect x="182.00" y="80.61" width="2.35" height="10.04" fill="#c4c2e4"/>
<rect x="184.00" y="80.61" width="2.35" height="10.04" fill="#f6f0f2"/>
<rect x="186.00" y="80.61" width="1.94" height="10.04" fill="#9894ce"/>
<rect x="187.59" y="80.61" width="1.96" height="10.04" fill="#9894ce"/>
<rect x="189.20" y="80.61" width="1.78" height="10.04" fill="#c4c2e4"/>
<rect x="190.63" y="80.61" width="1.60" height="10.04" fill="#c4c2e4"/>
<rect x="191.88" y="80.61" width="1.40" height="10.04" fill="#9894ce"/>
<rect x="192.93" y="80.61" width="1.94" height="10.04" fill="#9894ce"/>
<rect x="194.52" y="80.61" width="0.83" height="10.04" fill="#9894ce"/>
<rect x="195.00" y="80.61" width="1.54" height="10.04" fill="#c4c2e4"/>
<rect x="196.19" y="80.61" width="1.49" height="10.04" fill="#c4c2e4"/>
<rect x="197.32" y="80.61" width="1.03" height="10.04" fill="#c4c2e4"/>
<rect x="198.00" y="80.61" width="2.25" height="10.04" fill="#625eae"/>
<rect x="199.90" y="80.61" width="1.35" height="10.04" fill="#7470b8"/>
<rect x="200.90" y="80.61" width="1.53" height="10.04" fill="#7470b8"/>
<rect x="202.09" y="80.61" width="1.77" height="10.04" fill="#7470b8"/>
<rect x="203.51" y="80.61" width="1.84" height="10.04" fill="#9894ce"/>
<rect x="205.00" y="80.61" width="1.27" height="10.04" fill="#9894ce"/>
<rect x="205.92" y="80.61" width="1.29" height="10.04" fill="#7470b8"/>
<rect x="206.86" y="80.61" width="1.49" height="10.04" fill="#9894ce"/>
<rect x="208.00" y="80.61" width="1.63" height="10.04" fill="#c4c2e4"/>
<rect x="209.28" y="80.61" width="1.27" height="10.04" fill="#e2e0f0"/>
<rect x="210.20" y="80.61" width="2.15" height="10.04" fill="#9894ce"/>
<rect x="212.00" y="80.61" width="1.62" height="10.04" fill="#7470b8"/>
<rect x="213.27" y="80.61" width="1.60" height="10.04" fill="#7470b8"/>
<rect x="214.53" y="80.61" width="2.19" height="10.04" fill="#7470b8"/>
<rect x="216.36" y="80.61" width="1.62" height="10.04" fill="#9894ce"/>
<rect x="217.63" y="80.61" width="0.72" height="10.04" fill="#7470b8"/>
<rect x="218.00" y="80.61" width="1.71" height="10.04" fill="#9894ce"/>
<rect x="219.36" y="80.61" width="1.84" height="10.04" fill="#c4c2e4"/>
<rect x="220.85" y="80.61" width="1.42" height="10.04" fill="#9894ce"/>
<rect x="221.92" y="80.61" width="0.43" height="10.04" fill="#9894ce"/>
<rect x="222.00" y="80.61" width="1.76" height="10.04" fill="#7470b8"/>
<rect x="223.41" y="80.61" width="1.78" height="10.04" fill="#9894ce"/>
<rect x="224.84" y="80.61" width="2.01" height="10.04" fill="#9894ce"/>
<rect x="226.50" y="80.61" width="2.26" height="10.04" fill="#7470b8"/>
<rect x="228.41" y="80.61" width="0.94" height="10.04" fill="#7470b8"/>
<rect x="229.00" y="80.61" width="2.02" height="10.04" fill="#f8c8c0"/>
<rect x="230.67" y="80.61" width="1.50" height="10.04" fill="#f8c8c0"/>
<rect x="231.82" y="80.61" width="1.53" height="10.04" fill="#f8c8c0"/>
<rect x="233.00" y="80.61" width="1.82" height="10.04" fill="#c4c2e4"/>
<rect x="234.47" y="80.61" width="1.31" height="10.04" fill="#9894ce"/>
<rect x="235.43" y="80.61" width="2.08" height="10.04" fill="#9894ce"/>
<rect x="237.16" y="80.61" width="1.19" height="10.04" fill="#c4c2e4"/>
<rect x="32.50" y="90.06" width="1.99" height="9.44" fill="#f8c8c0"/>
<rect x="34.14" y="90.06" width="1.21" height="9.44" fill="#f8c8c0"/>
<rect x="35.00" y="90.06" width="1.68" height="9.44" fill="#f06a58"/>
<rect x="36.33" y="90.06" width="1.57" height="9.44" fill="#ee5644"/>
<rect x="37.55" y="90.06" width="1.37" height="9.44" fill="#f06a58"/>
<rect x="38.57" y="90.06" width="2.31" height="9.44" fill="#f06a58"/>
<rect x="40.53" y="90.06" width="1.82" height="9.44" fill="#f06a58"/>
<rect x="42.00" y="90.06" width="1.28" height="9.44" fill="#ee5644"/>
<rect x="42.93" y="90.06" width="2.22" height="9.44" fill="#ee5644"/>
<rect x="44.79" y="90.06" width="1.38" height="9.44" fill="#ee5644"/>
<rect x="45.82" y="90.06" width="2.20" height="9.44" fill="#f06a58"/>
<rect x="47.67" y="90.06" width="1.71" height="9.44" fill="#ec4630"/>
<rect x="49.03" y="90.06" width="1.32" height="9.44" fill="#ee5644"/>
<rect x="50.00" y="90.06" width="1.97" height="9.44" fill="#f5a898"/>
<rect x="51.62" y="90.06" width="2.12" height="9.44" fill="#f08070"/>
<rect x="53.40" y="90.06" width="0.95" height="9.44" fill="#f08070"/>
<rect x="54.00" y="90.06" width="1.35" height="9.44" fill="#f6f0f2"/>
<rect x="55.00" y="90.06" width="2.05" height="9.44" fill="#f5a898"/>
<rect x="56.70" y="90.06" width="1.68" height="9.44" fill="#f08070"/>
<rect x="58.03" y="90.06" width="1.37" height="9.44" fill="#f5a898"/>
<rect x="59.05" y="90.06" width="1.26" height="9.44" fill="#f5a898"/>
<rect x="59.96" y="90.06" width="1.78" height="9.44" fill="#f08070"/>
<rect x="61.38" y="90.06" width="0.97" height="9.44" fill="#f5a898"/>
<rect x="62.00" y="90.06" width="1.72" height="9.44" fill="#f06a58"/>
<rect x="63.37" y="90.06" width="1.45" height="9.44" fill="#f08070"/>
<rect x="64.47" y="90.06" width="1.28" height="9.44" fill="#f06a58"/>
<rect x="65.40" y="90.06" width="1.38" height="9.44" fill="#f06a58"/>
<rect x="66.43" y="90.06" width="1.54" height="9.44" fill="#ee5644"/>
<rect x="67.62" y="90.06" width="1.74" height="9.44" fill="#f08070"/>
<rect x="69.01" y="90.06" width="1.76" height="9.44" fill="#f08070"/>
<rect x="70.42" y="90.06" width="1.34" height="9.44" fill="#ee5644"/>
<rect x="71.40" y="90.06" width="0.95" height="9.44" fill="#ee5644"/>
<rect x="72.00" y="90.06" width="1.97" height="9.44" fill="#f06a58"/>
<rect x="73.62" y="90.06" width="1.96" height="9.44" fill="#f5a898"/>
<rect x="75.24" y="90.06" width="1.44" height="9.44" fill="#f06a58"/>
<rect x="76.32" y="90.06" width="2.03" height="9.44" fill="#f06a58"/>
<rect x="78.00" y="90.06" width="2.35" height="9.44" fill="#f8c8c0"/>
<rect x="80.00" y="90.06" width="2.22" height="9.44" fill="#f06a58"/>
<rect x="81.87" y="90.06" width="1.32" height="9.44" fill="#f06a58"/>
<rect x="82.84" y="90.06" width="1.95" height="9.44" fill="#ee5644"/>
<rect x="84.44" y="90.06" width="1.93" height="9.44" fill="#f08070"/>
<rect x="86.02" y="90.06" width="1.88" height="9.44" fill="#f06a58"/>
<rect x="87.55" y="90.06" width="2.30" height="9.44" fill="#ee5644"/>
<rect x="89.50" y="90.06" width="0.85" height="9.44" fill="#f06a58"/>
<rect x="90.00" y="90.06" width="1.97" height="9.44" fill="#f06a58"/>
<rect x="91.62" y="90.06" width="1.57" height="9.44" fill="#ee5644"/>
<rect x="92.84" y="90.06" width="1.80" height="9.44" fill="#ee5644"/>
<rect x="94.30" y="90.06" width="2.13" height="9.44" fill="#ee5644"/>
<rect x="96.08" y="90.06" width="1.87" height="9.44" fill="#ee5644"/>
<rect x="97.60" y="90.06" width="2.75" height="9.44" fill="#f06a58"/>
<rect x="100.00" y="90.06" width="1.35" height="9.44" fill="#f8c8c0"/>
<rect x="101.00" y="90.06" width="2.06" height="9.44" fill="#ec4630"/>
<rect x="102.71" y="90.06" width="1.96" height="9.44" fill="#ee5644"/>
<rect x="104.32" y="90.06" width="1.03" height="9.44" fill="#ee5644"/>
<rect x="105.00" y="90.06" width="2.21" height="9.44" fill="#f8e0dc"/>
<rect x="106.86" y="90.06" width="1.49" height="9.44" fill="#f8c8c0"/>
<rect x="108.00" y="90.06" width="1.81" height="9.44" fill="#ee5644"/>
<rect x="109.46" y="90.06" width="1.54" height="9.44" fill="#ee5644"/>
<rect x="110.65" y="90.06" width="1.67" height="9.44" fill="#ec4630"/>
<rect x="111.97" y="90.06" width="1.46" height="9.44" fill="#ee5644"/>
<rect x="113.07" y="90.06" width="1.61" height="9.44" fill="#ee5644"/>
<rect x="114.34" y="90.06" width="1.95" height="9.44" fill="#ee5644"/>
<rect x="115.94" y="90.06" width="1.74" height="9.44" fill="#ee5644"/>
<rect x="117.33" y="90.06" width="2.21" height="9.44" fill="#ec4630"/>
<rect x="119.19" y="90.06" width="1.65" height="9.44" fill="#ee5644"/>
<rect x="120.50" y="90.06" width="1.65" height="9.44" fill="#ec4630"/>
<rect x="121.80" y="90.06" width="1.35" height="9.44" fill="#f06a58"/>
<rect x="122.80" y="90.06" width="2.32" height="9.44" fill="#f06a58"/>
<rect x="124.77" y="90.06" width="2.03" height="9.44" fill="#ee5644"/>
<rect x="126.45" y="90.06" width="0.70" height="9.44" fill="#ee5644"/>
<rect x="126.80" y="90.06" width="1.30" height="9.44" fill="#f6f0f2"/>
<rect x="127.75" y="90.06" width="1.92" height="9.44" fill="#e2e0f0"/>
<rect x="129.33" y="90.06" width="1.02" height="9.44" fill="#f8e0dc"/>
<rect x="130.00" y="90.06" width="2.35" height="9.44" fill="#9894ce"/>
<rect x="132.00" y="90.06" width="1.38" height="9.44" fill="#f6f0f2"/>
<rect x="133.03" y="90.06" width="1.39" height="9.44" fill="#f6f0f2"/>
<rect x="134.07" y="90.06" width="1.28" height="9.44" fill="#f6f0f2"/>
<rect x="135.00" y="90.06" width="1.50" height="9.44" fill="#f8c8c0"/>
<rect x="136.15" y="90.06" width="1.36" height="9.44" fill="#f8e0dc"/>
<rect x="137.16" y="90.06" width="1.19" height="9.44" fill="#f8c8c0"/>
<rect x="138.00" y="90.06" width="2.35" height="9.44" fill="#7470b8"/>
<rect x="140.00" y="90.06" width="1.49" height="9.44" fill="#e2e0f0"/>
<rect x="141.14" y="90.06" width="1.58" height="9.44" fill="#e2e0f0"/>
<rect x="142.38" y="90.06" width="2.12" height="9.44" fill="#c4c2e4"/>
<rect x="144.15" y="90.06" width="1.20" height="9.44" fill="#e2e0f0"/>
<rect x="145.00" y="90.06" width="1.68" height="9.44" fill="#f5a898"/>
<rect x="146.33" y="90.06" width="2.02" height="9.44" fill="#f8c8c0"/>
<rect x="148.00" y="90.06" width="2.35" height="9.44" fill="#f06a58"/>
<rect x="150.00" y="90.06" width="2.35" height="9.44" fill="#f6f0f2"/>
<rect x="152.00" y="90.06" width="1.83" height="9.44" fill="#f8c8c0"/>
<rect x="153.48" y="90.06" width="1.98" height="9.44" fill="#f5a898"/>
<rect x="155.11" y="90.06" width="1.24" height="9.44" fill="#f5a898"/>
<rect x="156.00" y="90.06" width="1.95" height="9.44" fill="#ee5644"/>
<rect x="157.60" y="90.06" width="1.50" height="9.44" fill="#ee5644"/>
<rect x="158.75" y="90.06" width="1.60" height="9.44" fill="#ee5644"/>
<rect x="160.00" y="90.06" width="1.56" height="9.44" fill="#f8e0dc"/>
<rect x="161.21" y="90.06" width="1.90" height="9.44" fill="#f8e0dc"/>
<rect x="162.76" y="90.06" width="0.59" height="9.44" fill="#f6f0f2"/>
<rect x="163.00" y="90.06" width="2.18" height="9.44" fill="#f5a898"/>
<rect x="164.83" y="90.06" width="1.52" height="9.44" fill="#f5a898"/>
<rect x="166.00" y="90.06" width="2.07" height="9.44" fill="#f8c8c0"/>
<rect x="167.72" y="90.06" width="2.31" height="9.44" fill="#f8c8c0"/>
<rect x="169.68" y="90.06" width="1.27" height="9.44" fill="#f5a898"/>
<rect x="170.60" y="90.06" width="2.14" height="9.44" fill="#f5a898"/>
<rect x="172.39" y="90.06" width="1.56" height="9.44" fill="#f8c8c0"/>
<rect x="173.60" y="90.06" width="2.75" height="9.44" fill="#f8e0dc"/>
<rect x="176.00" y="90.06" width="2.35" height="9.44" fill="#9894ce"/>
<rect x="178.00" y="90.06" width="2.35" height="9.44" fill="#f5a898"/>
<rect x="180.00" y="90.06" width="1.52" height="9.44" fill="#e2e0f0"/>
<rect x="181.17" y="90.06" width="1.85" height="9.44" fill="#e2e0f0"/>
<rect x="182.67" y="90.06" width="0.68" height="9.44" fill="#f6f0f2"/>
<rect x="183.00" y="90.06" width="2.29" height="9.44" fill="#e2e0f0"/>
<rect x="184.94" y="90.06" width="1.32" height="9.44" fill="#f6f0f2"/>
<rect x="185.91" y="90.06" width="0.44" height="9.44" fill="#f6f0f2"/>
<rect x="186.00" y="90.06" width="1.56" height="9.44" fill="#7470b8"/>
<rect x="187.21" y="90.06" width="1.30" height="9.44" fill="#9894ce"/>
<rect x="188.16" y="90.06" width="1.38" height="9.44" fill="#c4c2e4"/>
<rect x="189.19" y="90.06" width="0.36" height="9.44" fill="#9894ce"/>
<rect x="189.20" y="90.06" width="1.37" height="9.44" fill="#5450a6"/>
<rect x="190.22" y="90.06" width="2.11" height="9.44" fill="#3e3a98"/>
<rect x="191.98" y="90.06" width="0.37" height="9.44" fill="#5450a6"/>
<rect x="192.00" y="90.06" width="1.60" height="9.44" fill="#c4c2e4"/>
<rect x="193.25" y="90.06" width="2.10" height="9.44" fill="#c4c2e4"/>
<rect x="195.00" y="90.06" width="1.50" height="9.44" fill="#c4c2e4"/>
<rect x="196.15" y="90.06" width="1.44" height="9.44" fill="#e2e0f0"/>
<rect x="197.24" y="90.06" width="1.44" height="9.44" fill="#c4c2e4"/>
<rect x="198.33" y="90.06" width="2.02" height="9.44" fill="#9894ce"/>
<rect x="200.00" y="90.06" width="1.43" height="9.44" fill="#7470b8"/>
<rect x="201.08" y="90.06" width="2.25" height="9.44" fill="#7470b8"/>
<rect x="202.98" y="90.06" width="1.84" height="9.44" fill="#7470b8"/>
<rect x="204.47" y="90.06" width="0.88" height="9.44" fill="#625eae"/>
<rect x="205.00" y="90.06" width="1.60" height="9.44" fill="#e2e0f0"/>
<rect x="206.25" y="90.06" width="2.10" height="9.44" fill="#f6f0f2"/>
<rect x="208.00" y="90.06" width="1.30" height="9.44" fill="#c4c2e4"/>
<rect x="208.95" y="90.06" width="2.18" height="9.44" fill="#9894ce"/>
<rect x="210.77" y="90.06" width="1.46" height="9.44" fill="#9894ce"/>
<rect x="211.88" y="90.06" width="2.24" height="9.44" fill="#c4c2e4"/>
<rect x="213.76" y="90.06" width="1.59" height="9.44" fill="#c4c2e4"/>
<rect x="215.00" y="90.06" width="1.89" height="9.44" fill="#7470b8"/>
<rect x="216.54" y="90.06" width="2.23" height="9.44" fill="#7470b8"/>
<rect x="218.42" y="90.06" width="2.24" height="9.44" fill="#7470b8"/>
<rect x="220.32" y="90.06" width="2.03" height="9.44" fill="#7470b8"/>
<rect x="222.00" y="90.06" width="1.60" height="9.44" fill="#9894ce"/>
<rect x="223.25" y="90.06" width="2.18" height="9.44" fill="#9894ce"/>
<rect x="225.08" y="90.06" width="1.84" height="9.44" fill="#9894ce"/>
<rect x="226.57" y="90.06" width="1.30" height="9.44" fill="#9894ce"/>
<rect x="227.52" y="90.06" width="0.83" height="9.44" fill="#7470b8"/>
<rect x="228.00" y="90.06" width="2.07" height="9.44" fill="#c4c2e4"/>
<rect x="229.72" y="90.06" width="1.99" height="9.44" fill="#c4c2e4"/>
<rect x="231.35" y="90.06" width="1.00" height="9.44" fill="#e2e0f0"/>
<rect x="232.00" y="90.06" width="2.35" height="9.44" fill="#f5a898"/>
<rect x="234.00" y="90.06" width="1.30" height="9.44" fill="#f6f0f2"/>
<rect x="234.95" y="90.06" width="2.19" height="9.44" fill="#f6f0f2"/>
<rect x="236.79" y="90.06" width="1.56" height="9.44" fill="#f8e0dc"/>
<line x1="97.5" y1="14.5" x2="97.5" y2="99.5" stroke="#0a0a0a" stroke-width="1"/>
<line x1="126.5" y1="14.5" x2="126.5" y2="99.5" stroke="#0a0a0a" stroke-width="1"/>
<line x1="173.5" y1="14.5" x2="173.5" y2="99.5" stroke="#0a0a0a" stroke-width="1"/>
<line x1="189.5" y1="14.5" x2="189.5" y2="99.5" stroke="#0a0a0a" stroke-width="1"/>
<rect x="32.5" y="14.5" width="206.0" height="85.0" fill="none" stroke="#0a0a0a" stroke-width="1"/>
<rect x="240.1" y="15" width="3.2" height="26.9" fill="#8c1272"/>
<rect x="240.1" y="42.7" width="3.2" height="18.5" fill="#2a4aa6"/>
<rect x="240.1" y="62.0" width="3.2" height="17.900000000000006" fill="#f05414"/>
<rect x="240.1" y="80.9" width="3.2" height="17.69999999999999" fill="#137340"/>
<text transform="translate(246.30,31.20) scale(0.948,1)" font-size="7.9" text-anchor="start" font-weight="normal" fill="#141414" stroke="#141414" stroke-width="0.12">shcontrol</text>
<text transform="translate(246.30,54.60) scale(0.948,1)" font-size="7.9" text-anchor="start" font-weight="normal" fill="#141414" stroke="#141414" stroke-width="0.12">shSMARCD1</text>
<text transform="translate(246.30,73.80) scale(0.948,1)" font-size="7.9" text-anchor="start" font-weight="normal" fill="#141414" stroke="#141414" stroke-width="0.12">shcontrol</text>
<text transform="translate(246.30,91.40) scale(0.948,1)" font-size="7.9" text-anchor="start" font-weight="normal" fill="#141414" stroke="#141414" stroke-width="0.12">shSMARCD1</text>
<line x1="29.5" y1="15" x2="29.5" y2="62.2" stroke="#6a6a6a" stroke-width="1"/>
<line x1="29.5" y1="63.8" x2="29.5" y2="99" stroke="#6a6a6a" stroke-width="1"/>
<text transform="translate(20.30,38.30) rotate(90) scale(0.970,1)" font-size="7.6" text-anchor="middle" font-weight="normal" fill="#141414" stroke="#141414" stroke-width="0.12">Uninduced</text>
<text transform="translate(20.30,81.00) rotate(90) scale(0.970,1)" font-size="7.6" text-anchor="middle" font-weight="normal" fill="#141414" stroke="#141414" stroke-width="0.12">Induced</text>
<text transform="translate(67.40,107.90) scale(0.930,1)" font-size="8.4" text-anchor="middle" font-weight="normal" fill="#141414" stroke="#141414" stroke-width="0.12">C1</text>
<text transform="translate(112.70,107.90) scale(0.930,1)" font-size="8.4" text-anchor="middle" font-weight="normal" fill="#141414" stroke="#141414" stroke-width="0.12">C2</text>
<text transform="translate(151.50,107.90) scale(0.930,1)" font-size="8.4" text-anchor="middle" font-weight="normal" fill="#141414" stroke="#141414" stroke-width="0.12">C3</text>
<text transform="translate(183.00,107.90) scale(0.930,1)" font-size="8.4" text-anchor="middle" font-weight="normal" fill="#141414" stroke="#141414" stroke-width="0.12">C4</text>
<text transform="translate(214.00,107.90) scale(0.930,1)" font-size="8.4" text-anchor="middle" font-weight="normal" fill="#141414" stroke="#141414" stroke-width="0.12">C5</text>
<line x1="66.3" y1="109.5" x2="44.2" y2="115.3" stroke="#111" stroke-width="1.1"/>
<line x1="113.8" y1="109.5" x2="102.9" y2="116.2" stroke="#111" stroke-width="1.1"/>
<line x1="151.5" y1="108.8" x2="151.5" y2="116.2" stroke="#111" stroke-width="1.1"/>
<line x1="183.7" y1="109.5" x2="193.4" y2="116.2" stroke="#111" stroke-width="1.1"/>
<line x1="217" y1="109.2" x2="232.7" y2="116.5" stroke="#111" stroke-width="1.1"/>
<text transform="translate(42.80,123.90) scale(1.080,1)" font-size="6.5" text-anchor="middle" font-weight="normal" fill="#141414" stroke="#141414" stroke-width="0.03">(n=372)</text>
<text transform="translate(42.80,132.30) scale(0.890,1)" font-size="8.1" text-anchor="middle" font-weight="normal" fill="#141414" stroke="#141414" stroke-width="0.12">CD14, CD80,</text>
<text transform="translate(42.80,140.97) scale(0.890,1)" font-size="8.1" text-anchor="middle" font-weight="normal" fill="#141414" stroke="#141414" stroke-width="0.12">CD38, CEBPB,</text>
<text transform="translate(42.80,149.64) scale(0.890,1)" font-size="8.1" text-anchor="middle" font-weight="normal" fill="#141414" stroke="#141414" stroke-width="0.12">RELB, CDKN1A,</text>
<text transform="translate(42.80,158.31) scale(0.890,1)" font-size="8.1" text-anchor="middle" font-weight="normal" fill="#141414" stroke="#141414" stroke-width="0.12">ZFP36L1,</text>
<text transform="translate(42.80,166.98) scale(0.890,1)" font-size="8.1" text-anchor="middle" font-weight="normal" fill="#141414" stroke="#141414" stroke-width="0.12">CL7, CCL8</text>
<text transform="translate(100.00,123.90) scale(1.080,1)" font-size="6.5" text-anchor="middle" font-weight="normal" fill="#141414" stroke="#141414" stroke-width="0.03">(n=166)</text>
<text transform="translate(100.00,132.30) scale(0.890,1)" font-size="8.1" text-anchor="middle" font-weight="normal" fill="#141414" stroke="#141414" stroke-width="0.12">FCGR3B,</text>
<text transform="translate(100.00,140.97) scale(0.890,1)" font-size="8.1" text-anchor="middle" font-weight="normal" fill="#141414" stroke="#141414" stroke-width="0.12">EGR1,</text>
<text transform="translate(100.00,149.64) scale(0.890,1)" font-size="8.1" text-anchor="middle" font-weight="normal" fill="#141414" stroke="#141414" stroke-width="0.12">EGR2, HIF3A,</text>
<text transform="translate(100.00,158.31) scale(0.890,1)" font-size="8.1" text-anchor="middle" font-weight="normal" fill="#141414" stroke="#141414" stroke-width="0.12">HLA-A, CCL4</text>
<text transform="translate(151.20,123.90) scale(1.080,1)" font-size="6.5" text-anchor="middle" font-weight="normal" fill="#141414" stroke="#141414" stroke-width="0.03">(n=267)</text>
<text transform="translate(151.20,132.30) scale(0.890,1)" font-size="8.1" text-anchor="middle" font-weight="normal" fill="#141414" stroke="#141414" stroke-width="0.12">CCL3, CCL5,</text>
<text transform="translate(151.20,140.97) scale(0.890,1)" font-size="8.1" text-anchor="middle" font-weight="normal" fill="#141414" stroke="#141414" stroke-width="0.12">CXCR5,</text>
<text transform="translate(151.20,149.64) scale(0.890,1)" font-size="8.1" text-anchor="middle" font-weight="normal" fill="#141414" stroke="#141414" stroke-width="0.12">HES1, KLF5,</text>
<text transform="translate(151.20,158.31) scale(0.890,1)" font-size="8.1" text-anchor="middle" font-weight="normal" fill="#141414" stroke="#141414" stroke-width="0.12">MAF, MMP9</text>
<text transform="translate(198.00,123.90) scale(1.080,1)" font-size="6.5" text-anchor="middle" font-weight="normal" fill="#141414" stroke="#141414" stroke-width="0.03">(n=88)</text>
<text transform="translate(198.00,132.30) scale(0.890,1)" font-size="8.1" text-anchor="middle" font-weight="normal" fill="#141414" stroke="#141414" stroke-width="0.12">CD163,</text>
<text transform="translate(198.00,140.97) scale(0.890,1)" font-size="8.1" text-anchor="middle" font-weight="normal" fill="#141414" stroke="#141414" stroke-width="0.12">ELANE</text>
<text transform="translate(230.00,123.90) scale(1.080,1)" font-size="6.5" text-anchor="middle" font-weight="normal" fill="#141414" stroke="#141414" stroke-width="0.03">(n=282)</text>
<text transform="translate(230.00,132.30) scale(0.890,1)" font-size="8.1" text-anchor="middle" font-weight="normal" fill="#141414" stroke="#141414" stroke-width="0.12">FADS1,</text>
<text transform="translate(230.00,140.97) scale(0.890,1)" font-size="8.1" text-anchor="middle" font-weight="normal" fill="#141414" stroke="#141414" stroke-width="0.12">FADS2,</text>
<text transform="translate(230.00,149.64) scale(0.890,1)" font-size="8.1" text-anchor="middle" font-weight="normal" fill="#141414" stroke="#141414" stroke-width="0.12">MPO</text>
<defs><linearGradient id="zg" x1="0" y1="0" x2="0" y2="1"><stop offset="0" stop-color="#14147a"/><stop offset="0.25" stop-color="#5558aa"/><stop offset="0.5" stop-color="#ffffff"/><stop offset="0.75" stop-color="#f07078"/><stop offset="1" stop-color="#e40010"/></linearGradient>
<linearGradient id="rg" x1="0" y1="0" x2="1" y2="0"><stop offset="0" stop-color="#e81818"/><stop offset="0.5" stop-color="#ffffff"/><stop offset="1" stop-color="#3848a0"/></linearGradient></defs>
<rect x="267.1" y="108.4" width="7.7" height="34.7" fill="url(#zg)"/>
<line x1="267.1" y1="111.7" x2="268.6" y2="111.7" stroke="#fff" stroke-width="0.7" stroke-opacity="0.8"/>
<line x1="267.1" y1="119.4" x2="268.6" y2="119.4" stroke="#fff" stroke-width="0.7" stroke-opacity="0.8"/>
<line x1="267.1" y1="134.1" x2="268.6" y2="134.1" stroke="#fff" stroke-width="0.7" stroke-opacity="0.8"/>
<text transform="translate(264.00,112.50) scale(0.900,1)" font-size="8" text-anchor="end" font-weight="normal" fill="#141414" stroke="#141414" stroke-width="0.12">−2</text>
<text transform="translate(264.00,120.50) scale(0.900,1)" font-size="8" text-anchor="end" font-weight="normal" fill="#141414" stroke="#141414" stroke-width="0.12">−1</text>
<text transform="translate(264.00,128.50) scale(0.950,1)" font-size="8" text-anchor="end" font-weight="normal" fill="#141414" stroke="#141414" stroke-width="0.12">0</text>
<text transform="translate(264.00,136.60) scale(0.950,1)" font-size="8" text-anchor="end" font-weight="normal" fill="#141414" stroke="#141414" stroke-width="0.12">1</text>
<text transform="translate(264.00,144.70) scale(0.950,1)" font-size="8" text-anchor="end" font-weight="normal" fill="#141414" stroke="#141414" stroke-width="0.12">2</text>
<text transform="translate(277.20,125.00) rotate(90) scale(0.970,1)" font-size="7.2" text-anchor="middle" font-weight="normal" fill="#141414" stroke="#141414" stroke-width="0.12">Z-score</text>
<circle cx="435.5" cy="79.0" r="59.0" fill="#e2e2e2"/>
<line x1="435.5" y1="79.0" x2="435.50" y2="20.00" stroke="#fff" stroke-width="1"/>
<line x1="435.5" y1="79.0" x2="461.10" y2="25.84" stroke="#fff" stroke-width="1"/>
<line x1="435.5" y1="79.0" x2="481.63" y2="42.21" stroke="#fff" stroke-width="1"/>
<line x1="435.5" y1="79.0" x2="493.02" y2="65.87" stroke="#fff" stroke-width="1"/>
<line x1="435.5" y1="79.0" x2="493.02" y2="92.13" stroke="#fff" stroke-width="1"/>
<line x1="435.5" y1="79.0" x2="481.63" y2="115.79" stroke="#fff" stroke-width="1"/>
<line x1="435.5" y1="79.0" x2="461.10" y2="132.16" stroke="#fff" stroke-width="1"/>
<line x1="435.5" y1="79.0" x2="435.50" y2="138.00" stroke="#fff" stroke-width="1"/>
<line x1="435.5" y1="79.0" x2="409.90" y2="132.16" stroke="#fff" stroke-width="1"/>
<line x1="435.5" y1="79.0" x2="389.37" y2="115.79" stroke="#fff" stroke-width="1"/>
<line x1="435.5" y1="79.0" x2="377.98" y2="92.13" stroke="#fff" stroke-width="1"/>
<line x1="435.5" y1="79.0" x2="377.98" y2="65.87" stroke="#fff" stroke-width="1"/>
<line x1="435.5" y1="79.0" x2="389.37" y2="42.21" stroke="#fff" stroke-width="1"/>
<line x1="435.5" y1="79.0" x2="409.90" y2="25.84" stroke="#fff" stroke-width="1"/>
<circle cx="435.5" cy="79.0" r="23.6" fill="none" stroke="#111" stroke-width="1.2"/>
<circle cx="435.5" cy="79.0" r="35.4" fill="none" stroke="#111" stroke-width="1.2"/>
<circle cx="435.5" cy="79.0" r="47.2" fill="none" stroke="#111" stroke-width="1.2"/>
<circle cx="435.5" cy="79.0" r="59" fill="none" stroke="#111" stroke-width="1.2"/>
<circle cx="435.5" cy="79.0" r="11.8" fill="none" stroke="#111" stroke-width="1.2" stroke-dasharray="2.6 1.6"/>
<path d="M435.50,72.00 L442.00,65.48 L457.38,61.53 L451.10,75.43 L461.23,84.89 L455.04,94.60 L460.65,131.26 L447.77,136.71 L435.50,138.00 L422.79,134.05 L414.90,121.80 L435.11,79.31 L434.04,79.33 L430.60,79.89 L427.12,80.14 L423.61,80.07 L420.10,79.69 L416.60,79.00 L413.14,77.99 L409.74,76.67 L406.43,75.05 L403.21,73.12 L400.12,70.90 L403.87,70.25 L407.60,69.91 L411.30,69.90 L414.93,70.19 L418.48,70.79 L421.93,71.68 L425.25,72.87 L428.44,74.34 L431.47,76.07 L434.33,78.06 L434.20,76.30Z" fill="rgb(56,188,76)" fill-opacity="0.5"/>
<path d="M435.50,42.00 L438.86,55.94 L442.18,65.12 L464.10,56.17 L451.83,70.31 L446.90,76.39 L485.02,90.34 L487.31,96.84 L487.13,103.85 L485.20,110.05 L481.61,115.81 L477.15,120.65 L472.25,124.39 L467.54,126.50 L462.58,126.87 L457.75,125.23 L435.50,90.30 L424.79,101.26 L418.69,100.13 L413.62,96.47 L414.23,89.23 L416.78,83.29 L429.50,79.00 L435.01,78.89 L430.11,76.37 L418.46,65.40 L426.09,59.45 L431.49,55.54Z" fill="rgb(202,20,46)" fill-opacity="0.55"/>
<circle cx="435.50" cy="42.00" r="0.95" fill="#d8102c"/>
<circle cx="442.18" cy="65.13" r="0.95" fill="#d8102c"/>
<circle cx="464.12" cy="56.18" r="0.95" fill="#d8102c"/>
<circle cx="446.91" cy="76.40" r="0.95" fill="#d8102c"/>
<circle cx="485.03" cy="90.30" r="0.95" fill="#d8102c"/>
<circle cx="481.63" cy="115.79" r="0.95" fill="#d8102c"/>
<circle cx="457.76" cy="125.22" r="0.95" fill="#d8102c"/>
<circle cx="435.50" cy="90.30" r="0.95" fill="#d8102c"/>
<circle cx="424.78" cy="101.25" r="0.95" fill="#d8102c"/>
<circle cx="413.61" cy="96.46" r="0.95" fill="#d8102c"/>
<circle cx="416.78" cy="83.27" r="0.95" fill="#d8102c"/>
<circle cx="418.46" cy="65.41" r="0.95" fill="#d8102c"/>
<circle cx="426.08" cy="59.45" r="0.95" fill="#d8102c"/>
<text x="427.05" y="17.30" font-size="8.1" textLength="17.49" lengthAdjust="spacingAndGlyphs" font-weight="normal" fill="#141414" stroke="#141414" stroke-width="0.12">HSC</text>
<text x="461.65" y="23.10" font-size="8.1" textLength="17.69" lengthAdjust="spacingAndGlyphs" font-weight="normal" fill="#141414" stroke="#141414" stroke-width="0.12">HPC</text>
<text x="483.65" y="41.80" font-size="8.1" textLength="18.39" lengthAdjust="spacingAndGlyphs" font-weight="normal" fill="#141414" stroke="#141414" stroke-width="0.12">CMP</text>
<text x="495.05" y="65.70" font-size="8.1" textLength="17.19" lengthAdjust="spacingAndGlyphs" font-weight="normal" fill="#141414" stroke="#141414" stroke-width="0.12">MEP</text>
<text x="494.85" y="95.80" font-size="8.1" textLength="19.29" lengthAdjust="spacingAndGlyphs" font-weight="normal" fill="#141414" stroke="#141414" stroke-width="0.12">GMP</text>
<text x="484.35" y="120.90" font-size="8.1" textLength="18.79" lengthAdjust="spacingAndGlyphs" font-weight="normal" fill="#141414" stroke="#141414" stroke-width="0.12">ProM</text>
<text x="463.15" y="139.30" font-size="8.1" textLength="37.49" lengthAdjust="spacingAndGlyphs" font-weight="normal" fill="#141414" stroke="#141414" stroke-width="0.12">Myelocytes</text>
<text x="420.75" y="146.10" font-size="8.1" textLength="36.49" lengthAdjust="spacingAndGlyphs" font-weight="normal" fill="#141414" stroke="#141414" stroke-width="0.12">Monocytes</text>
<text x="391.45" y="140.70" font-size="8.1" textLength="18.29" lengthAdjust="spacingAndGlyphs" font-weight="normal" fill="#141414" stroke="#141414" stroke-width="0.12">mDC</text>
<text x="370.85" y="123.10" font-size="8.1" textLength="16.69" lengthAdjust="spacingAndGlyphs" font-weight="normal" fill="#141414" stroke="#141414" stroke-width="0.12">pDC</text>
<text x="352.65" y="94.70" font-size="8.1" textLength="22.99" lengthAdjust="spacingAndGlyphs" font-weight="normal" fill="#141414" stroke="#141414" stroke-width="0.12">B cells</text>
<text x="330.25" y="67.90" font-size="8.1" textLength="44.79" lengthAdjust="spacingAndGlyphs" font-weight="normal" fill="#141414" stroke="#141414" stroke-width="0.12">CD4+ T cells</text>
<text x="340.45" y="42.50" font-size="8.1" textLength="44.69" lengthAdjust="spacingAndGlyphs" font-weight="normal" fill="#141414" stroke="#141414" stroke-width="0.12">CD8+ T cells</text>
<text x="379.45" y="24.80" font-size="8.1" textLength="27.99" lengthAdjust="spacingAndGlyphs" font-weight="normal" fill="#141414" stroke="#141414" stroke-width="0.12">NK cells</text>
<circle cx="373.3" cy="158.2" r="3.2" fill="#78cd82"/>
<circle cx="373.3" cy="169.8" r="3.2" fill="#d75a6e"/>
<text x="379.65" y="160.80" font-size="8.1" textLength="74.99" lengthAdjust="spacingAndGlyphs" font-weight="normal" fill="#141414" stroke="#141414" stroke-width="0.12">HL-60 shSMARCD1 up</text>
<text x="379.65" y="172.40" font-size="8.1" textLength="83.69" lengthAdjust="spacingAndGlyphs" font-weight="normal" fill="#141414" stroke="#141414" stroke-width="0.12">HL-60 shSMARCD1 down</text>
<rect x="159.10" y="201.00" width="9.50" height="9.50" fill="#3f4fa8"/>
<rect x="168.55" y="201.00" width="9.50" height="9.50" fill="#3f4fa8"/>
<rect x="178.00" y="201.00" width="9.50" height="9.50" fill="#3f4fa8"/>
<rect x="187.45" y="201.00" width="9.50" height="9.50" fill="#3f4fa8"/>
<rect x="196.90" y="201.00" width="9.50" height="9.50" fill="#3f4fa8"/>
<rect x="206.35" y="201.00" width="9.50" height="9.50" fill="#3f4fa8"/>
<rect x="215.80" y="201.00" width="9.50" height="9.50" fill="#3f4fa8"/>
<rect x="225.25" y="201.00" width="9.50" height="9.50" fill="#3f4fa8"/>
<rect x="234.70" y="201.00" width="9.50" height="9.50" fill="#3f4fa8"/>
<rect x="244.15" y="201.00" width="9.50" height="9.50" fill="#3f4fa8"/>
<rect x="253.60" y="201.00" width="9.50" height="9.50" fill="#3f4fa8"/>
<rect x="263.05" y="201.00" width="9.50" height="9.50" fill="#3f4fa8"/>
<rect x="272.50" y="201.00" width="9.50" height="9.50" fill="#3f4fa8"/>
<rect x="281.95" y="201.00" width="9.50" height="9.50" fill="#3f4fa8"/>
<rect x="291.40" y="201.00" width="9.50" height="9.50" fill="#5f52a5"/>
<rect x="300.85" y="201.00" width="9.50" height="9.50" fill="#3f4fa8"/>
<rect x="159.10" y="210.45" width="9.50" height="9.50" fill="#f49a9f"/>
<rect x="168.55" y="210.45" width="9.50" height="9.50" fill="#f8fafa"/>
<rect x="178.00" y="210.45" width="9.50" height="9.50" fill="#f6b5b9"/>
<rect x="187.45" y="210.45" width="9.50" height="9.50" fill="#e82a2a"/>
<rect x="196.90" y="210.45" width="9.50" height="9.50" fill="#f5a4aa"/>
<rect x="206.35" y="210.45" width="9.50" height="9.50" fill="#b4afdd"/>
<rect x="215.80" y="210.45" width="9.50" height="9.50" fill="#ee5555"/>
<rect x="225.25" y="210.45" width="9.50" height="9.50" fill="#ef6666"/>
<rect x="234.70" y="210.45" width="9.50" height="9.50" fill="#f7b5b8"/>
<rect x="244.15" y="210.45" width="9.50" height="9.50" fill="#b0a8d8"/>
<rect x="253.60" y="210.45" width="9.50" height="9.50" fill="#f08080"/>
<rect x="263.05" y="210.45" width="9.50" height="9.50" fill="#f08a8a"/>
<rect x="272.50" y="210.45" width="9.50" height="9.50" fill="#e82a2a"/>
<rect x="281.95" y="210.45" width="9.50" height="9.50" fill="#f4a0a5"/>
<rect x="291.40" y="210.45" width="9.50" height="9.50" fill="#3f4fa8"/>
<rect x="300.85" y="210.45" width="9.50" height="9.50" fill="#ee5a5a"/>
<rect x="159.10" y="219.90" width="9.50" height="9.50" fill="#e82530"/>
<rect x="168.55" y="219.90" width="9.50" height="9.50" fill="#e8252d"/>
<rect x="178.00" y="219.90" width="9.50" height="9.50" fill="#e82530"/>
<rect x="187.45" y="219.90" width="9.50" height="9.50" fill="#ec4a4f"/>
<rect x="196.90" y="219.90" width="9.50" height="9.50" fill="#e82a2a"/>
<rect x="206.35" y="219.90" width="9.50" height="9.50" fill="#fcf8f8"/>
<rect x="215.80" y="219.90" width="9.50" height="9.50" fill="#e8282d"/>
<rect x="225.25" y="219.90" width="9.50" height="9.50" fill="#ee5050"/>
<rect x="234.70" y="219.90" width="9.50" height="9.50" fill="#ea3a3a"/>
<rect x="244.15" y="219.90" width="9.50" height="9.50" fill="#f08080"/>
<rect x="253.60" y="219.90" width="9.50" height="9.50" fill="#ea3a3a"/>
<rect x="263.05" y="219.90" width="9.50" height="9.50" fill="#e93535"/>
<rect x="272.50" y="219.90" width="9.50" height="9.50" fill="#ea3a3a"/>
<rect x="281.95" y="219.90" width="9.50" height="9.50" fill="#f5a0a5"/>
<rect x="291.40" y="219.90" width="9.50" height="9.50" fill="#fbdcdc"/>
<rect x="300.85" y="219.90" width="9.50" height="9.50" fill="#e82a2a"/>
<rect x="159.10" y="229.35" width="9.50" height="9.50" fill="#ea3535"/>
<rect x="168.55" y="229.35" width="9.50" height="9.50" fill="#eb3d40"/>
<rect x="178.00" y="229.35" width="9.50" height="9.50" fill="#e93035"/>
<rect x="187.45" y="229.35" width="9.50" height="9.50" fill="#ef5a5e"/>
<rect x="196.90" y="229.35" width="9.50" height="9.50" fill="#c8c8e8"/>
<rect x="206.35" y="229.35" width="9.50" height="9.50" fill="#e82a2a"/>
<rect x="215.80" y="229.35" width="9.50" height="9.50" fill="#ea3535"/>
<rect x="225.25" y="229.35" width="9.50" height="9.50" fill="#e82a2a"/>
<rect x="234.70" y="229.35" width="9.50" height="9.50" fill="#e82525"/>
<rect x="244.15" y="229.35" width="9.50" height="9.50" fill="#e82525"/>
<rect x="253.60" y="229.35" width="9.50" height="9.50" fill="#e82525"/>
<rect x="263.05" y="229.35" width="9.50" height="9.50" fill="#e82525"/>
<rect x="272.50" y="229.35" width="9.50" height="9.50" fill="#e82525"/>
<rect x="281.95" y="229.35" width="9.50" height="9.50" fill="#e82525"/>
<rect x="291.40" y="229.35" width="9.50" height="9.50" fill="#e82525"/>
<rect x="300.85" y="229.35" width="9.50" height="9.50" fill="#e82525"/>
<rect x="220.5" y="194.6" width="90" height="4.6" fill="url(#rg)"/>
<text x="221.09" y="191.40" font-size="7.4" textLength="27.41" lengthAdjust="spacingAndGlyphs" font-weight="normal" fill="#141414" stroke="#141414" stroke-width="0.12">Row min</text>
<text x="282.99" y="191.40" font-size="7.4" textLength="28.31" lengthAdjust="spacingAndGlyphs" font-weight="normal" fill="#141414" stroke="#141414" stroke-width="0.12">Row max</text>
<text transform="translate(312.50,208.22) scale(0.955,1)" font-size="8.0" text-anchor="start" font-weight="normal" fill="#141414" stroke="#141414" stroke-width="0.12">shcontrol</text>
<text transform="translate(312.50,217.67) scale(0.955,1)" font-size="8.0" text-anchor="start" font-weight="normal" fill="#141414" stroke="#141414" stroke-width="0.12">shSMARCD1-1</text>
<text transform="translate(312.50,227.12) scale(0.955,1)" font-size="8.0" text-anchor="start" font-weight="normal" fill="#141414" stroke="#141414" stroke-width="0.12">shSMARCD1-2</text>
<text transform="translate(312.50,236.57) scale(0.955,1)" font-size="8.0" text-anchor="start" font-weight="normal" fill="#141414" stroke="#141414" stroke-width="0.12">shSMARCD1-3</text>
<text transform="translate(161.52,242.00) rotate(90) scale(0.950,1)" font-size="8.0" text-anchor="start" font-weight="normal" fill="#141414" stroke="#141414" stroke-width="0.12">CEBPB</text>
<text transform="translate(170.97,242.00) rotate(90) scale(0.950,1)" font-size="8.0" text-anchor="start" font-weight="normal" fill="#141414" stroke="#141414" stroke-width="0.12">S100A9</text>
<text transform="translate(180.42,242.00) rotate(90) scale(0.950,1)" font-size="8.0" text-anchor="start" font-weight="normal" fill="#141414" stroke="#141414" stroke-width="0.12">S100A8</text>
<text transform="translate(189.87,242.00) rotate(90) scale(0.950,1)" font-size="8.0" text-anchor="start" font-weight="normal" fill="#141414" stroke="#141414" stroke-width="0.12">FEN1</text>
<text transform="translate(199.32,242.00) rotate(90) scale(0.950,1)" font-size="8.0" text-anchor="start" font-weight="normal" fill="#141414" stroke="#141414" stroke-width="0.12">KLF5</text>
<text transform="translate(208.77,242.00) rotate(90) scale(0.950,1)" font-size="8.0" text-anchor="start" font-weight="normal" fill="#141414" stroke="#141414" stroke-width="0.12">ITGB1</text>
<text transform="translate(218.22,242.00) rotate(90) scale(0.950,1)" font-size="8.0" text-anchor="start" font-weight="normal" fill="#141414" stroke="#141414" stroke-width="0.12">OAS1</text>
<text transform="translate(227.67,242.00) rotate(90) scale(0.950,1)" font-size="8.0" text-anchor="start" font-weight="normal" fill="#141414" stroke="#141414" stroke-width="0.12">TLR1</text>
<text transform="translate(237.12,242.00) rotate(90) scale(0.950,1)" font-size="8.0" text-anchor="start" font-weight="normal" fill="#141414" stroke="#141414" stroke-width="0.12">IL1R1</text>
<text transform="translate(246.57,242.00) rotate(90) scale(0.950,1)" font-size="8.0" text-anchor="start" font-weight="normal" fill="#141414" stroke="#141414" stroke-width="0.12">CDKN1A</text>
<text transform="translate(256.02,242.00) rotate(90) scale(0.950,1)" font-size="8.0" text-anchor="start" font-weight="normal" fill="#141414" stroke="#141414" stroke-width="0.12">CCL7</text>
<text transform="translate(265.47,242.00) rotate(90) scale(0.950,1)" font-size="8.0" text-anchor="start" font-weight="normal" fill="#141414" stroke="#141414" stroke-width="0.12">CCL4</text>
<text transform="translate(274.93,242.00) rotate(90) scale(0.950,1)" font-size="8.0" text-anchor="start" font-weight="normal" fill="#141414" stroke="#141414" stroke-width="0.12">CCL3</text>
<text transform="translate(284.38,242.00) rotate(90) scale(0.950,1)" font-size="8.0" text-anchor="start" font-weight="normal" fill="#141414" stroke="#141414" stroke-width="0.12">SMARCD3</text>
<text transform="translate(293.82,242.00) rotate(90) scale(0.950,1)" font-size="8.0" text-anchor="start" font-weight="normal" fill="#141414" stroke="#141414" stroke-width="0.12">ZFP36L1</text>
<text transform="translate(303.28,242.00) rotate(90) scale(0.950,1)" font-size="8.0" text-anchor="start" font-weight="normal" fill="#141414" stroke="#141414" stroke-width="0.12">CCL8</text>
<rect x="0.5" y="0.5" width="519" height="285" fill="none" stroke="#000" stroke-width="1.1"/>
</svg>
</body></html>
